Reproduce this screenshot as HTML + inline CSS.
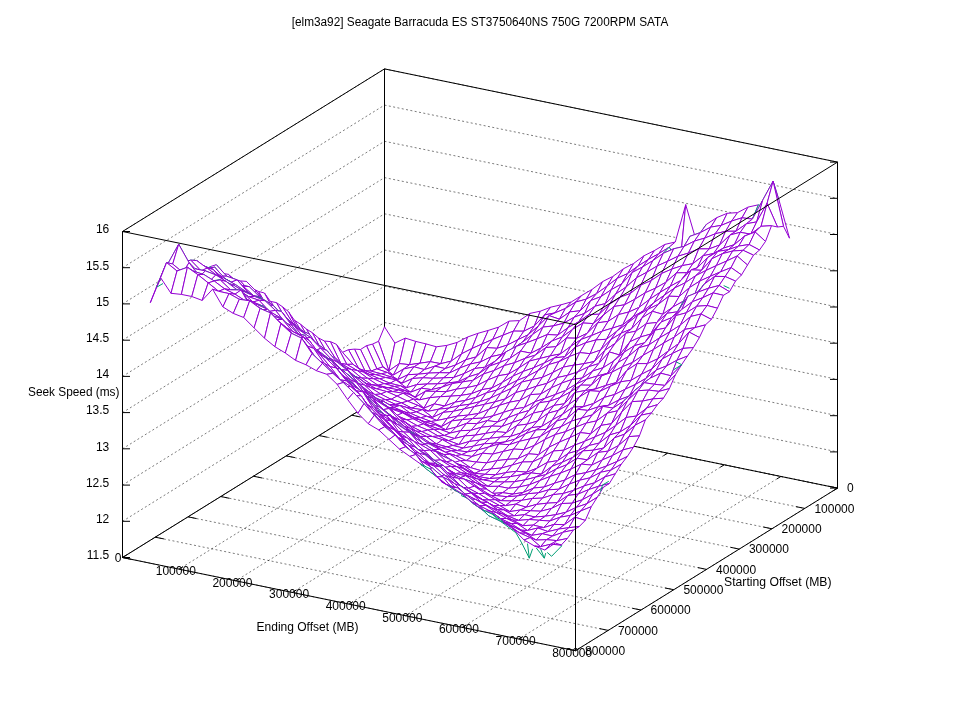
<!DOCTYPE html>
<html><head><meta charset="utf-8"><title>Seek plot</title>
<style>html,body{margin:0;padding:0;background:#fff;}body{width:960px;height:720px;overflow:hidden;font-family:"Liberation Sans",sans-serif;}svg{display:block;will-change:transform;}</style></head>
<body>
<svg width="960" height="720" viewBox="0 0 960 720">
<rect width="960" height="720" fill="#fff"/>
<path d="M384.5 394.9L122.5 557.5M384.5 394.9L837.5 488.1M441.1 406.5L179.1 569.1M351.8 415.2L804.8 508.4M497.8 418.2L235.8 580.8M319 435.5L772 528.8M554.4 429.8L292.4 592.4M286.2 455.9L739.2 549.1M611 441.5L349 604.1M253.5 476.2L706.5 569.4M667.6 453.1L405.6 615.8M220.8 496.5L673.8 589.7M724.2 464.8L462.2 627.4M188 516.8L641 610M780.9 476.4L518.9 639M155.2 537.2L608.2 630.4M837.5 488.1L575.5 650.7M122.5 557.5L575.5 650.7M122.5 557.5L384.5 394.9M384.5 394.9L837.5 488.1M122.5 521.3L384.5 358.7M384.5 358.7L837.5 451.9M122.5 485.1L384.5 322.5M384.5 322.5L837.5 415.7M122.5 448.8L384.5 286.2M384.5 286.2L837.5 379.4M122.5 412.6L384.5 250M384.5 250L837.5 343.2M122.5 376.4L384.5 213.8M384.5 213.8L837.5 307M122.5 340.2L384.5 177.6M384.5 177.6L837.5 270.8M122.5 303.9L384.5 141.3M384.5 141.3L837.5 234.5M122.5 267.7L384.5 105.1M384.5 105.1L837.5 198.3M122.5 231.5L384.5 68.9M384.5 68.9L837.5 162.1" fill="none" stroke="#000" stroke-opacity="0.8" stroke-width="0.65" stroke-dasharray="2 2.4"/>
<path d="M122.5 557.5L575.5 650.7M575.5 650.7L837.5 488.1M837.5 488.1L384.5 394.9M384.5 394.9L122.5 557.5M122.5 557.5L122.5 231.5M837.5 488.1L837.5 162.1M384.5 394.9L384.5 68.9M122.5 231.5L384.5 68.9M384.5 68.9L837.5 162.1M122.5 557.5L126.4 555.1M384.5 394.9L380.6 397.3M837.5 488.1L828.9 486.3M384.5 394.9L393.1 396.7M179.1 569.1L183 566.7M441.1 406.5L437.2 409M804.8 508.4L796.1 506.7M351.8 415.2L360.4 417M235.8 580.8L239.7 578.4M497.8 418.2L493.8 420.6M772 528.8L763.4 527M319 435.5L327.6 437.3M292.4 592.4L296.3 590M554.4 429.8L550.5 432.3M739.2 549.1L730.6 547.3M286.2 455.9L294.9 457.6M349 604.1L352.9 601.7M611 441.5L607.1 443.9M706.5 569.4L697.9 567.6M253.5 476.2L262.1 478M405.6 615.8L409.5 613.3M667.6 453.1L663.7 455.6M673.8 589.7L665.1 588M220.8 496.5L229.4 498.3M462.2 627.4L466.2 625M724.2 464.8L720.3 467.2M641 610L632.4 608.3M188 516.8L196.6 518.6M518.9 639L522.8 636.6M780.9 476.4L777 478.9M608.2 630.4L599.6 628.6M155.2 537.2L163.9 538.9M575.5 650.7L579.4 648.3M837.5 488.1L833.6 490.5M575.5 650.7L566.9 648.9M122.5 557.5L131.1 559.3M122.5 557.5L130 557.5M837.5 488.1L830 488.1M122.5 521.3L130 521.3M837.5 451.9L830 451.9M122.5 485.1L130 485.1M837.5 415.7L830 415.7M122.5 448.8L130 448.8M837.5 379.4L830 379.4M122.5 412.6L130 412.6M837.5 343.2L830 343.2M122.5 376.4L130 376.4M837.5 307L830 307M122.5 340.2L130 340.2M837.5 270.8L830 270.8M122.5 303.9L130 303.9M837.5 234.5L830 234.5M122.5 267.7L130 267.7M837.5 198.3L830 198.3M122.5 231.5L130 231.5M837.5 162.1L830 162.1" fill="none" stroke="#000" stroke-width="1"/>
<path d="M461.1 495.5L471.4 499.9M482.3 508.2L504.2 524L515.8 532.7L521.7 542.9L529.3 558.2L532.6 548.8M527.5 543.6L529.3 558.2M536.3 548L544.3 558.2L545.7 553.1M540.6 548.8L544.3 558.2M547.2 552.4L551.6 556.3L561.8 545.8L555.9 542.2" fill="none" stroke="#009e73" stroke-width="1" stroke-linejoin="round"/>
<g fill="#fff" stroke="#9400d3" stroke-width="1" stroke-linejoin="round">
<path d="M384.5 326.8L394.9 343.1L388.9 370.8L378.5 341.3Z"/>
<path d="M394.9 343.1L405.3 338.1L399.3 363.6L388.9 370.8Z"/>
<path d="M378.5 341.3L388.9 370.8L382.9 366.9L372.5 344.1Z"/>
<path d="M405.3 338.1L415.7 341.4L409.6 364.7L399.3 363.6Z"/>
<path d="M388.9 370.8L399.3 363.6L393.3 375.1L382.9 366.9Z"/>
<path d="M415.7 341.4L426 343.9L420 363.2L409.6 364.7Z"/>
<path d="M372.5 344.1L382.9 366.9L376.9 368.9L366.5 345.7Z"/>
<path d="M399.3 363.6L409.6 364.7L403.6 369L393.3 375.1Z"/>
<path d="M426 343.9L436.4 346.8L430.4 361.7L420 363.2Z"/>
<path d="M382.9 366.9L393.3 375.1L387.3 372.5L376.9 368.9Z"/>
<path d="M409.6 364.7L420 363.2L414 366.8L403.6 369Z"/>
<path d="M436.4 346.8L446.8 345.4L440.8 363.7L430.4 361.7Z"/>
<path d="M366.5 345.7L376.9 368.9L370.9 371.1L360.5 349.5Z"/>
<path d="M393.3 375.1L403.6 369L397.6 379.7L387.3 372.5Z"/>
<path d="M420 363.2L430.4 361.7L424.4 369.6L414 366.8Z"/>
<path d="M446.8 345.4L457.2 342.4L451.2 361.1L440.8 363.7Z"/>
<path d="M376.9 368.9L387.3 372.5L381.2 373.8L370.9 371.1Z"/>
<path d="M403.6 369L414 366.8L408 374.7L397.6 379.7Z"/>
<path d="M430.4 361.7L440.8 363.7L434.8 366.2L424.4 369.6Z"/>
<path d="M360.5 349.5L370.9 371.1L364.9 370.7L354.5 349.1Z"/>
<path d="M457.2 342.4L467.6 337L461.6 353.8L451.2 361.1Z"/>
<path d="M387.3 372.5L397.6 379.7L391.6 377.1L381.2 373.8Z"/>
<path d="M414 366.8L424.4 369.6L418.4 374.2L408 374.7Z"/>
<path d="M440.8 363.7L451.2 361.1L445.2 368.6L434.8 366.2Z"/>
<path d="M370.9 371.1L381.2 373.8L375.2 374.6L364.9 370.7Z"/>
<path d="M467.6 337L478 333.3L472 348.5L461.6 353.8Z"/>
<path d="M397.6 379.7L408 374.7L402 383.3L391.6 377.1Z"/>
<path d="M424.4 369.6L434.8 366.2L428.8 373.1L418.4 374.2Z"/>
<path d="M354.5 349.1L364.9 370.7L358.8 368.7L348.5 349.7Z"/>
<path d="M451.2 361.1L461.6 353.8L455.6 365L445.2 368.6Z"/>
<path d="M381.2 373.8L391.6 377.1L385.6 377.5L375.2 374.6Z"/>
<path d="M478 333.3L488.3 330.4L482.3 343.9L472 348.5Z"/>
<path d="M408 374.7L418.4 374.2L412.4 378.5L402 383.3Z"/>
<path d="M434.8 366.2L445.2 368.6L439.2 372.7L428.8 373.1Z"/>
<path d="M364.9 370.7L375.2 374.6L369.2 374.4L358.8 368.7Z"/>
<path d="M461.6 353.8L472 348.5L466 359.7L455.6 365Z"/>
<path d="M391.6 377.1L402 383.3L396 380L385.6 377.5Z"/>
<path d="M488.3 330.4L498.7 327.1L492.7 339.4L482.3 343.9Z"/>
<path d="M418.4 374.2L428.8 373.1L422.8 377.8L412.4 378.5Z"/>
<path d="M348.5 349.7L358.8 368.7L352.8 364.2L342.5 352.3Z"/>
<path d="M445.2 368.6L455.6 365L449.6 372.9L439.2 372.7Z"/>
<path d="M375.2 374.6L385.6 377.5L379.6 378.8L369.2 374.4Z"/>
<path d="M472 348.5L482.3 343.9L476.3 356.9L466 359.7Z"/>
<path d="M402 383.3L412.4 378.5L406.4 387.8L396 380Z"/>
<path d="M498.7 327.1L509.1 321.1L503.1 335.2L492.7 339.4Z"/>
<path d="M428.8 373.1L439.2 372.7L433.2 378.3L422.8 377.8Z"/>
<path d="M358.8 368.7L369.2 374.4L363.2 372L352.8 364.2Z"/>
<path d="M455.6 365L466 359.7L459.9 368L449.6 372.9Z"/>
<path d="M385.6 377.5L396 380L390 383.3L379.6 378.8Z"/>
<path d="M482.3 343.9L492.7 339.4L486.7 347.6L476.3 356.9Z"/>
<path d="M412.4 378.5L422.8 377.8L416.8 384.6L406.4 387.8Z"/>
<path d="M509.1 321.1L519.5 320.6L513.5 331.1L503.1 335.2Z"/>
<path d="M342.5 352.3L352.8 364.2L346.8 364.4L336.4 344.3Z"/>
<path d="M439.2 372.7L449.6 372.9L443.6 377.9L433.2 378.3Z"/>
<path d="M369.2 374.4L379.6 378.8L373.6 378.8L363.2 372Z"/>
<path d="M466 359.7L476.3 356.9L470.3 364L459.9 368Z"/>
<path d="M396 380L406.4 387.8L400.4 385.8L390 383.3Z"/>
<path d="M492.7 339.4L503.1 335.2L497.1 348.3L486.7 347.6Z"/>
<path d="M422.8 377.8L433.2 378.3L427.2 384L416.8 384.6Z"/>
<path d="M519.5 320.6L529.9 313.4L523.9 331.2L513.5 331.1Z"/>
<path d="M352.8 364.2L363.2 372L357.2 370.5L346.8 364.4Z"/>
<path d="M449.6 372.9L459.9 368L453.9 377.4L443.6 377.9Z"/>
<path d="M379.6 378.8L390 383.3L384 383.6L373.6 378.8Z"/>
<path d="M476.3 356.9L486.7 347.6L480.7 361.9L470.3 364Z"/>
<path d="M406.4 387.8L416.8 384.6L410.8 392.2L400.4 385.8Z"/>
<path d="M503.1 335.2L513.5 331.1L507.5 345L497.1 348.3Z"/>
<path d="M336.4 344.3L346.8 364.4L340.8 363.5L330.4 341.6Z"/>
<path d="M433.2 378.3L443.6 377.9L437.5 383.9L427.2 384Z"/>
<path d="M529.9 313.4L540.3 311.2L534.3 326L523.9 331.2Z"/>
<path d="M363.2 372L373.6 378.8L367.6 378.3L357.2 370.5Z"/>
<path d="M459.9 368L470.3 364L464.3 373.5L453.9 377.4Z"/>
<path d="M390 383.3L400.4 385.8L394.4 386.5L384 383.6Z"/>
<path d="M486.7 347.6L497.1 348.3L491.1 356.7L480.7 361.9Z"/>
<path d="M416.8 384.6L427.2 384L421.2 388.2L410.8 392.2Z"/>
<path d="M513.5 331.1L523.9 331.2L517.9 339.7L507.5 345Z"/>
<path d="M346.8 364.4L357.2 370.5L351.2 369.5L340.8 363.5Z"/>
<path d="M443.6 377.9L453.9 377.4L447.9 382.9L437.5 383.9Z"/>
<path d="M540.3 311.2L550.7 307.2L544.7 314.9L534.3 326Z"/>
<path d="M373.6 378.8L384 383.6L378 385.3L367.6 378.3Z"/>
<path d="M470.3 364L480.7 361.9L474.7 368.5L464.3 373.5Z"/>
<path d="M400.4 385.8L410.8 392.2L404.8 390.5L394.4 386.5Z"/>
<path d="M497.1 348.3L507.5 345L501.5 354.4L491.1 356.7Z"/>
<path d="M330.4 341.6L340.8 363.5L334.8 357.5L324.4 341Z"/>
<path d="M427.2 384L437.5 383.9L431.5 389.6L421.2 388.2Z"/>
<path d="M523.9 331.2L534.3 326L528.3 334.7L517.9 339.7Z"/>
<path d="M357.2 370.5L367.6 378.3L361.6 378L351.2 369.5Z"/>
<path d="M453.9 377.4L464.3 373.5L458.3 381.8L447.9 382.9Z"/>
<path d="M550.7 307.2L561 304.8L555 312.9L544.7 314.9Z"/>
<path d="M384 383.6L394.4 386.5L388.4 387.9L378 385.3Z"/>
<path d="M480.7 361.9L491.1 356.7L485.1 367.2L474.7 368.5Z"/>
<path d="M410.8 392.2L421.2 388.2L415.2 397.3L404.8 390.5Z"/>
<path d="M507.5 345L517.9 339.7L511.9 349.9L501.5 354.4Z"/>
<path d="M340.8 363.5L351.2 369.5L345.2 368L334.8 357.5Z"/>
<path d="M437.5 383.9L447.9 382.9L441.9 387.2L431.5 389.6Z"/>
<path d="M534.3 326L544.7 314.9L538.6 325.7L528.3 334.7Z"/>
<path d="M367.6 378.3L378 385.3L372 384.9L361.6 378Z"/>
<path d="M464.3 373.5L474.7 368.5L468.7 376.8L458.3 381.8Z"/>
<path d="M561 304.8L571.4 301.9L565.4 308.5L555 312.9Z"/>
<path d="M394.4 386.5L404.8 390.5L398.8 390L388.4 387.9Z"/>
<path d="M491.1 356.7L501.5 354.4L495.5 361L485.1 367.2Z"/>
<path d="M324.4 341L334.8 357.5L328.8 356.1L318.4 337.9Z"/>
<path d="M421.2 388.2L431.5 389.6L425.5 391.2L415.2 397.3Z"/>
<path d="M517.9 339.7L528.3 334.7L522.3 342.3L511.9 349.9Z"/>
<path d="M351.2 369.5L361.6 378L355.6 377L345.2 368Z"/>
<path d="M447.9 382.9L458.3 381.8L452.3 383.6L441.9 387.2Z"/>
<path d="M544.7 314.9L555 312.9L549 315.6L538.6 325.7Z"/>
<path d="M378 385.3L388.4 387.9L382.4 387.1L372 384.9Z"/>
<path d="M474.7 368.5L485.1 367.2L479.1 373.5L468.7 376.8Z"/>
<path d="M571.4 301.9L581.8 295.4L575.8 302L565.4 308.5Z"/>
<path d="M404.8 390.5L415.2 397.3L409.1 394.3L398.8 390Z"/>
<path d="M501.5 354.4L511.9 349.9L505.9 351.9L495.5 361Z"/>
<path d="M334.8 357.5L345.2 368L339.2 363.5L328.8 356.1Z"/>
<path d="M431.5 389.6L441.9 387.2L435.9 391.4L425.5 391.2Z"/>
<path d="M528.3 334.7L538.6 325.7L532.6 334.5L522.3 342.3Z"/>
<path d="M361.6 378L372 384.9L366 383.4L355.6 377Z"/>
<path d="M458.3 381.8L468.7 376.8L462.7 381.9L452.3 383.6Z"/>
<path d="M555 312.9L565.4 308.5L559.4 319.2L549 315.6Z"/>
<path d="M388.4 387.9L398.8 390L392.8 391.6L382.4 387.1Z"/>
<path d="M485.1 367.2L495.5 361L489.5 366.1L479.1 373.5Z"/>
<path d="M581.8 295.4L592.2 289.3L586.2 299.2L575.8 302Z"/>
<path d="M318.4 337.9L328.8 356.1L322.8 352.4L312.4 332.8Z"/>
<path d="M415.2 397.3L425.5 391.2L419.5 399.9L409.1 394.3Z"/>
<path d="M511.9 349.9L522.3 342.3L516.2 346.4L505.9 351.9Z" stroke="#009e73"/>
<path d="M345.2 368L355.6 377L349.6 373.4L339.2 363.5Z"/>
<path d="M441.9 387.2L452.3 383.6L446.3 391.7L435.9 391.4Z"/>
<path d="M538.6 325.7L549 315.6L543 327.1L532.6 334.5Z"/>
<path d="M372 384.9L382.4 387.1L376.4 388.8L366 383.4Z"/>
<path d="M468.7 376.8L479.1 373.5L473.1 380.3L462.7 381.9Z"/>
<path d="M565.4 308.5L575.8 302L569.8 311.9L559.4 319.2Z"/>
<path d="M398.8 390L409.1 394.3L403.1 393.3L392.8 391.6Z"/>
<path d="M495.5 361L505.9 351.9L499.9 362.4L489.5 366.1Z"/>
<path d="M592.2 289.3L602.6 281.6L596.6 293.6L586.2 299.2Z"/>
<path d="M328.8 356.1L339.2 363.5L333.2 359.6L322.8 352.4Z"/>
<path d="M425.5 391.2L435.9 391.4L429.9 397.7L419.5 399.9Z"/>
<path d="M522.3 342.3L532.6 334.5L526.6 342.8L516.2 346.4Z"/>
<path d="M355.6 377L366 383.4L360 379.1L349.6 373.4Z" stroke="#009e73"/>
<path d="M452.3 383.6L462.7 381.9L456.7 389.1L446.3 391.7Z"/>
<path d="M549 315.6L559.4 319.2L553.4 325.9L543 327.1Z"/>
<path d="M382.4 387.1L392.8 391.6L386.7 391.6L376.4 388.8Z"/>
<path d="M479.1 373.5L489.5 366.1L483.5 374L473.1 380.3Z"/>
<path d="M575.8 302L586.2 299.2L580.2 310.8L569.8 311.9Z"/>
<path d="M312.4 332.8L322.8 352.4L316.8 347.5L306.4 329Z"/>
<path d="M409.1 394.3L419.5 399.9L413.5 399.2L403.1 393.3Z"/>
<path d="M505.9 351.9L516.2 346.4L510.2 358.2L499.9 362.4Z"/>
<path d="M602.6 281.6L613 276.3L607 286.1L596.6 293.6Z"/>
<path d="M339.2 363.5L349.6 373.4L343.6 368.3L333.2 359.6Z"/>
<path d="M435.9 391.4L446.3 391.7L440.3 396.7L429.9 397.7Z"/>
<path d="M532.6 334.5L543 327.1L537 338.9L526.6 342.8Z"/>
<path d="M366 383.4L376.4 388.8L370.4 387.5L360 379.1Z"/>
<path d="M462.7 381.9L473.1 380.3L467.1 387.6L456.7 389.1Z"/>
<path d="M559.4 319.2L569.8 311.9L563.8 323.2L553.4 325.9Z"/>
<path d="M392.8 391.6L403.1 393.3L397.1 396.1L386.7 391.6Z"/>
<path d="M489.5 366.1L499.9 362.4L493.9 370.6L483.5 374Z"/>
<path d="M586.2 299.2L596.6 293.6L590.6 300.6L580.2 310.8Z"/>
<path d="M322.8 352.4L333.2 359.6L327.2 355.1L316.8 347.5Z" stroke="#009e73"/>
<path d="M419.5 399.9L429.9 397.7L423.9 408.2L413.5 399.2Z"/>
<path d="M516.2 346.4L526.6 342.8L520.6 351.1L510.2 358.2Z"/>
<path d="M613 276.3L623.4 268.8L617.3 278.3L607 286.1Z"/>
<path d="M349.6 373.4L360 379.1L354 376.2L343.6 368.3Z" stroke="#009e73"/>
<path d="M446.3 391.7L456.7 389.1L450.7 396.2L440.3 396.7Z"/>
<path d="M543 327.1L553.4 325.9L547.4 334.5L537 338.9Z"/>
<path d="M376.4 388.8L386.7 391.6L380.7 394L370.4 387.5Z"/>
<path d="M473.1 380.3L483.5 374L477.5 385.3L467.1 387.6Z"/>
<path d="M569.8 311.9L580.2 310.8L574.2 317.2L563.8 323.2Z"/>
<path d="M306.4 329L316.8 347.5L310.8 342.7L300.4 324.1Z"/>
<path d="M403.1 393.3L413.5 399.2L407.5 401.2L397.1 396.1Z"/>
<path d="M499.9 362.4L510.2 358.2L504.2 365.6L493.9 370.6Z"/>
<path d="M596.6 293.6L607 286.1L601 296.6L590.6 300.6Z"/>
<path d="M333.2 359.6L343.6 368.3L337.6 361.7L327.2 355.1Z" stroke="#009e73"/>
<path d="M429.9 397.7L440.3 396.7L434.3 403.9L423.9 408.2Z"/>
<path d="M526.6 342.8L537 338.9L531 353.2L520.6 351.1Z"/>
<path d="M623.4 268.8L633.7 263.4L627.7 273.5L617.3 278.3Z"/>
<path d="M360 379.1L370.4 387.5L364.3 385L354 376.2Z"/>
<path d="M456.7 389.1L467.1 387.6L461.1 395.4L450.7 396.2Z"/>
<path d="M553.4 325.9L563.8 323.2L557.8 335.1L547.4 334.5Z"/>
<path d="M386.7 391.6L397.1 396.1L391.1 399.3L380.7 394Z"/>
<path d="M483.5 374L493.9 370.6L487.8 380L477.5 385.3Z"/>
<path d="M580.2 310.8L590.6 300.6L584.6 313.4L574.2 317.2Z"/>
<path d="M316.8 347.5L327.2 355.1L321.2 351.3L310.8 342.7Z"/>
<path d="M413.5 399.2L423.9 408.2L417.9 405.4L407.5 401.2Z"/>
<path d="M510.2 358.2L520.6 351.1L514.6 362.7L504.2 365.6Z"/>
<path d="M607 286.1L617.3 278.3L611.3 289.7L601 296.6Z"/>
<path d="M343.6 368.3L354 376.2L348 370L337.6 361.7Z" stroke="#009e73"/>
<path d="M440.3 396.7L450.7 396.2L444.7 406L434.3 403.9Z"/>
<path d="M537 338.9L547.4 334.5L541.4 347.8L531 353.2Z"/>
<path d="M633.7 263.4L644.1 255.7L638.1 266L627.7 273.5Z"/>
<path d="M370.4 387.5L380.7 394L374.7 394.5L364.3 385Z"/>
<path d="M467.1 387.6L477.5 385.3L471.5 393.7L461.1 395.4Z"/>
<path d="M563.8 323.2L574.2 317.2L568.2 327.5L557.8 335.1Z"/>
<path d="M300.4 324.1L310.8 342.7L304.8 336.6L294.4 320.2Z"/>
<path d="M397.1 396.1L407.5 401.2L401.5 402.9L391.1 399.3Z"/>
<path d="M493.9 370.6L504.2 365.6L498.2 375.8L487.8 380Z"/>
<path d="M590.6 300.6L601 296.6L595 306.2L584.6 313.4Z"/>
<path d="M327.2 355.1L337.6 361.7L331.6 360.1L321.2 351.3Z"/>
<path d="M423.9 408.2L434.3 403.9L428.3 411.3L417.9 405.4Z"/>
<path d="M520.6 351.1L531 353.2L525 358.4L514.6 362.7Z"/>
<path d="M617.3 278.3L627.7 273.5L621.7 283.9L611.3 289.7Z"/>
<path d="M354 376.2L364.3 385L358.3 383.6L348 370Z"/>
<path d="M450.7 396.2L461.1 395.4L455.1 402.2L444.7 406Z"/>
<path d="M547.4 334.5L557.8 335.1L551.8 341.1L541.4 347.8Z"/>
<path d="M644.1 255.7L654.5 250.5L648.5 259.4L638.1 266Z"/>
<path d="M380.7 394L391.1 399.3L385.1 399.6L374.7 394.5Z"/>
<path d="M477.5 385.3L487.8 380L481.8 389.7L471.5 393.7Z"/>
<path d="M574.2 317.2L584.6 313.4L578.6 321.8L568.2 327.5Z"/>
<path d="M310.8 342.7L321.2 351.3L315.2 344.9L304.8 336.6Z" stroke="#009e73"/>
<path d="M407.5 401.2L417.9 405.4L411.9 408.2L401.5 402.9Z"/>
<path d="M504.2 365.6L514.6 362.7L508.6 374L498.2 375.8Z"/>
<path d="M601 296.6L611.3 289.7L605.3 303.6L595 306.2Z"/>
<path d="M337.6 361.7L348 370L342 369.2L331.6 360.1Z"/>
<path d="M434.3 403.9L444.7 406L438.7 409.2L428.3 411.3Z"/>
<path d="M531 353.2L541.4 347.8L535.4 355.1L525 358.4Z"/>
<path d="M627.7 273.5L638.1 266L632.1 272.6L621.7 283.9Z"/>
<path d="M364.3 385L374.7 394.5L368.7 391.6L358.3 383.6Z"/>
<path d="M461.1 395.4L471.5 393.7L465.4 400.4L455.1 402.2Z"/>
<path d="M557.8 335.1L568.2 327.5L562.2 337L551.8 341.1Z"/>
<path d="M654.5 250.5L664.9 244.4L658.9 253.6L648.5 259.4Z"/>
<path d="M294.4 320.2L304.8 336.6L298.8 331.1L288.4 311.6Z"/>
<path d="M391.1 399.3L401.5 402.9L395.5 404.4L385.1 399.6Z"/>
<path d="M487.8 380L498.2 375.8L492.2 387.9L481.8 389.7Z"/>
<path d="M584.6 313.4L595 306.2L588.9 314.6L578.6 321.8Z"/>
<path d="M321.2 351.3L331.6 360.1L325.6 357.1L315.2 344.9Z"/>
<path d="M417.9 405.4L428.3 411.3L422.3 409.7L411.9 408.2Z"/>
<path d="M514.6 362.7L525 358.4L519 367.9L508.6 374Z"/>
<path d="M611.3 289.7L621.7 283.9L615.7 294.1L605.3 303.6Z"/>
<path d="M348 370L358.3 383.6L352.3 378.1L342 369.2Z"/>
<path d="M444.7 406L455.1 402.2L449.1 408.1L438.7 409.2Z"/>
<path d="M541.4 347.8L551.8 341.1L545.8 347.6L535.4 355.1Z"/>
<path d="M638.1 266L648.5 259.4L642.5 267L632.1 272.6Z"/>
<path d="M374.7 394.5L385.1 399.6L379.1 400.8L368.7 391.6Z"/>
<path d="M471.5 393.7L481.8 389.7L475.8 397.4L465.4 400.4Z"/>
<path d="M568.2 327.5L578.6 321.8L572.6 329.4L562.2 337Z"/>
<path d="M664.9 244.4L675.3 242L669.3 247.1L658.9 253.6Z"/>
<path d="M304.8 336.6L315.2 344.9L309.2 334L298.8 331.1Z" stroke="#009e73"/>
<path d="M401.5 402.9L411.9 408.2L405.9 407.3L395.5 404.4Z"/>
<path d="M498.2 375.8L508.6 374L502.6 382.3L492.2 387.9Z"/>
<path d="M595 306.2L605.3 303.6L599.3 314.2L588.9 314.6Z"/>
<path d="M331.6 360.1L342 369.2L335.9 364.3L325.6 357.1Z"/>
<path d="M428.3 411.3L438.7 409.2L432.7 417.4L422.3 409.7Z"/>
<path d="M525 358.4L535.4 355.1L529.4 361.1L519 367.9Z"/>
<path d="M621.7 283.9L632.1 272.6L626.1 287L615.7 294.1Z"/>
<path d="M358.3 383.6L368.7 391.6L362.7 388.4L352.3 378.1Z"/>
<path d="M455.1 402.2L465.4 400.4L459.4 405.7L449.1 408.1Z"/>
<path d="M551.8 341.1L562.2 337L556.2 346.6L545.8 347.6Z"/>
<path d="M648.5 259.4L658.9 253.6L652.9 260.6L642.5 267Z"/>
<path d="M288.4 311.6L298.8 331.1L292.8 323.2L282.4 306.7Z"/>
<path d="M385.1 399.6L395.5 404.4L389.5 405L379.1 400.8Z"/>
<path d="M481.8 389.7L492.2 387.9L486.2 393L475.8 397.4Z"/>
<path d="M578.6 321.8L588.9 314.6L582.9 323L572.6 329.4Z"/>
<path d="M675.3 242L685.7 204.7L679.7 267.7L669.3 247.1Z"/>
<path d="M315.2 344.9L325.6 357.1L319.6 348.4L309.2 334Z" stroke="#009e73"/>
<path d="M411.9 408.2L422.3 409.7L416.3 411.9L405.9 407.3Z"/>
<path d="M508.6 374L519 367.9L513 376.1L502.6 382.3Z"/>
<path d="M605.3 303.6L615.7 294.1L609.7 304.2L599.3 314.2Z"/>
<path d="M342 369.2L352.3 378.1L346.3 375L335.9 364.3Z"/>
<path d="M438.7 409.2L449.1 408.1L443.1 412.4L432.7 417.4Z"/>
<path d="M535.4 355.1L545.8 347.6L539.8 358.5L529.4 361.1Z"/>
<path d="M632.1 272.6L642.5 267L636.5 277.8L626.1 287Z"/>
<path d="M368.7 391.6L379.1 400.8L373.1 396.7L362.7 388.4Z"/>
<path d="M465.4 400.4L475.8 397.4L469.8 404.2L459.4 405.7Z"/>
<path d="M562.2 337L572.6 329.4L566.5 338L556.2 346.6Z"/>
<path d="M658.9 253.6L669.3 247.1L663.3 253.3L652.9 260.6Z"/>
<path d="M298.8 331.1L309.2 334L303.2 331.4L292.8 323.2Z" stroke="#009e73"/>
<path d="M395.5 404.4L405.9 407.3L399.9 405.5L389.5 405Z"/>
<path d="M492.2 387.9L502.6 382.3L496.6 390.2L486.2 393Z"/>
<path d="M588.9 314.6L599.3 314.2L593.3 323.6L582.9 323Z"/>
<path d="M685.7 204.7L696 240L690 236.3L679.7 267.7Z"/>
<path d="M325.6 357.1L335.9 364.3L329.9 356.4L319.6 348.4Z" stroke="#009e73"/>
<path d="M422.3 409.7L432.7 417.4L426.7 416.3L416.3 411.9Z"/>
<path d="M519 367.9L529.4 361.1L523.4 371.4L513 376.1Z"/>
<path d="M615.7 294.1L626.1 287L620.1 297.3L609.7 304.2Z"/>
<path d="M352.3 378.1L362.7 388.4L356.7 382.6L346.3 375Z"/>
<path d="M449.1 408.1L459.4 405.7L453.4 411.3L443.1 412.4Z"/>
<path d="M545.8 347.6L556.2 346.6L550.2 355.9L539.8 358.5Z"/>
<path d="M642.5 267L652.9 260.6L646.9 272.2L636.5 277.8Z"/>
<path d="M282.4 306.7L292.8 323.2L286.8 320.8L276.4 302.6Z"/>
<path d="M379.1 400.8L389.5 405L383.5 401.4L373.1 396.7Z" stroke="#009e73"/>
<path d="M475.8 397.4L486.2 393L480.2 401.6L469.8 404.2Z"/>
<path d="M572.6 329.4L582.9 323L576.9 338.2L566.5 338Z"/>
<path d="M669.3 247.1L679.7 267.7L673.7 248.8L663.3 253.3Z" stroke="#009e73"/>
<path d="M309.2 334L319.6 348.4L313.5 345.6L303.2 331.4Z"/>
<path d="M405.9 407.3L416.3 411.9L410.3 413.3L399.9 405.5Z"/>
<path d="M502.6 382.3L513 376.1L507 385.5L496.6 390.2Z"/>
<path d="M599.3 314.2L609.7 304.2L603.7 314.9L593.3 323.6Z"/>
<path d="M696 240L706.4 224.4L700.4 232.6L690 236.3Z" stroke="#009e73"/>
<path d="M335.9 364.3L346.3 375L340.3 369L329.9 356.4Z" stroke="#009e73"/>
<path d="M432.7 417.4L443.1 412.4L437 420.5L426.7 416.3Z"/>
<path d="M529.4 361.1L539.8 358.5L533.8 367.7L523.4 371.4Z"/>
<path d="M626.1 287L636.5 277.8L630.5 293.4L620.1 297.3Z"/>
<path d="M362.7 388.4L373.1 396.7L367.1 392.2L356.7 382.6Z"/>
<path d="M459.4 405.7L469.8 404.2L463.8 409L453.4 411.3Z"/>
<path d="M556.2 346.6L566.5 338L560.5 353.9L550.2 355.9Z"/>
<path d="M652.9 260.6L663.3 253.3L657.3 265.9L646.9 272.2Z"/>
<path d="M292.8 323.2L303.2 331.4L297.2 329.3L286.8 320.8Z"/>
<path d="M389.5 405L399.9 405.5L393.9 407.4L383.5 401.4Z"/>
<path d="M486.2 393L496.6 390.2L490.6 398L480.2 401.6Z"/>
<path d="M582.9 323L593.3 323.6L587.3 333.2L576.9 338.2Z"/>
<path d="M679.7 267.7L690 236.3L684 246.4L673.7 248.8Z" stroke="#009e73"/>
<path d="M319.6 348.4L329.9 356.4L323.9 350.7L313.5 345.6Z" stroke="#009e73"/>
<path d="M416.3 411.9L426.7 416.3L420.7 417.7L410.3 413.3Z"/>
<path d="M513 376.1L523.4 371.4L517.4 380.3L507 385.5Z"/>
<path d="M609.7 304.2L620.1 297.3L614.1 306.5L603.7 314.9Z"/>
<path d="M706.4 224.4L716.8 217.6L710.8 227.1L700.4 232.6Z"/>
<path d="M346.3 375L356.7 382.6L350.7 379.2L340.3 369Z"/>
<path d="M443.1 412.4L453.4 411.3L447.4 418.4L437 420.5Z"/>
<path d="M539.8 358.5L550.2 355.9L544.1 363.1L533.8 367.7Z"/>
<path d="M636.5 277.8L646.9 272.2L640.9 285.1L630.5 293.4Z"/>
<path d="M276.4 302.6L286.8 320.8L280.8 315.9L270.4 301.4Z"/>
<path d="M373.1 396.7L383.5 401.4L377.5 401.8L367.1 392.2Z"/>
<path d="M469.8 404.2L480.2 401.6L474.2 406.7L463.8 409Z"/>
<path d="M566.5 338L576.9 338.2L570.9 346.2L560.5 353.9Z"/>
<path d="M663.3 253.3L673.7 248.8L667.6 261.3L657.3 265.9Z"/>
<path d="M303.2 331.4L313.5 345.6L307.5 341.1L297.2 329.3Z"/>
<path d="M399.9 405.5L410.3 413.3L404.3 411.9L393.9 407.4Z"/>
<path d="M496.6 390.2L507 385.5L501 393.1L490.6 398Z"/>
<path d="M593.3 323.6L603.7 314.9L597.7 322.8L587.3 333.2Z"/>
<path d="M690 236.3L700.4 232.6L694.4 241.1L684 246.4Z"/>
<path d="M329.9 356.4L340.3 369L334.3 361.7L323.9 350.7Z"/>
<path d="M426.7 416.3L437 420.5L431 421.5L420.7 417.7Z"/>
<path d="M523.4 371.4L533.8 367.7L527.8 376.1L517.4 380.3Z"/>
<path d="M620.1 297.3L630.5 293.4L624.5 304.8L614.1 306.5Z"/>
<path d="M716.8 217.6L727.2 213.3L721.2 225.4L710.8 227.1Z"/>
<path d="M356.7 382.6L367.1 392.2L361.1 386.6L350.7 379.2Z"/>
<path d="M453.4 411.3L463.8 409L457.8 416L447.4 418.4Z"/>
<path d="M550.2 355.9L560.5 353.9L554.5 357.9L544.1 363.1Z"/>
<path d="M646.9 272.2L657.3 265.9L651.3 280.5L640.9 285.1Z"/>
<path d="M286.8 320.8L297.2 329.3L291.2 327L280.8 315.9Z"/>
<path d="M383.5 401.4L393.9 407.4L387.9 407.6L377.5 401.8Z"/>
<path d="M480.2 401.6L490.6 398L484.6 404.3L474.2 406.7Z"/>
<path d="M576.9 338.2L587.3 333.2L581.3 339.4L570.9 346.2Z"/>
<path d="M673.7 248.8L684 246.4L678 256.2L667.6 261.3Z"/>
<path d="M313.5 345.6L323.9 350.7L317.9 347.4L307.5 341.1Z" stroke="#009e73"/>
<path d="M410.3 413.3L420.7 417.7L414.6 417.8L404.3 411.9Z"/>
<path d="M507 385.5L517.4 380.3L511.4 388.4L501 393.1Z"/>
<path d="M603.7 314.9L614.1 306.5L608.1 321.4L597.7 322.8Z"/>
<path d="M700.4 232.6L710.8 227.1L704.8 238.1L694.4 241.1Z"/>
<path d="M340.3 369L350.7 379.2L344.7 375.2L334.3 361.7Z"/>
<path d="M437 420.5L447.4 418.4L441.4 426.7L431 421.5Z"/>
<path d="M533.8 367.7L544.1 363.1L538.1 370.6L527.8 376.1Z"/>
<path d="M630.5 293.4L640.9 285.1L634.9 299.2L624.5 304.8Z"/>
<path d="M727.2 213.3L737.6 212.6L731.6 221.1L721.2 225.4Z"/>
<path d="M270.4 301.4L280.8 315.9L274.8 312.2L264.4 293Z"/>
<path d="M367.1 392.2L377.5 401.8L371.5 397.2L361.1 386.6Z"/>
<path d="M463.8 409L474.2 406.7L468.2 415.1L457.8 416Z"/>
<path d="M560.5 353.9L570.9 346.2L564.9 356.7L554.5 357.9Z"/>
<path d="M657.3 265.9L667.6 261.3L661.6 273.5L651.3 280.5Z"/>
<path d="M297.2 329.3L307.5 341.1L301.5 332.7L291.2 327Z" stroke="#009e73"/>
<path d="M393.9 407.4L404.3 411.9L398.3 410.2L387.9 407.6Z"/>
<path d="M490.6 398L501 393.1L495 401.9L484.6 404.3Z"/>
<path d="M587.3 333.2L597.7 322.8L591.7 335.5L581.3 339.4Z"/>
<path d="M684 246.4L694.4 241.1L688.4 253.1L678 256.2Z"/>
<path d="M323.9 350.7L334.3 361.7L328.3 354.5L317.9 347.4Z" stroke="#009e73"/>
<path d="M420.7 417.7L431 421.5L425 422L414.6 417.8Z"/>
<path d="M517.4 380.3L527.8 376.1L521.8 382.1L511.4 388.4Z"/>
<path d="M614.1 306.5L624.5 304.8L618.5 314.6L608.1 321.4Z"/>
<path d="M710.8 227.1L721.2 225.4L715.2 233.8L704.8 238.1Z"/>
<path d="M350.7 379.2L361.1 386.6L355.1 384.6L344.7 375.2Z"/>
<path d="M447.4 418.4L457.8 416L451.8 420.9L441.4 426.7Z"/>
<path d="M544.1 363.1L554.5 357.9L548.5 364.6L538.1 370.6Z"/>
<path d="M640.9 285.1L651.3 280.5L645.2 292.8L634.9 299.2Z"/>
<path d="M737.6 212.6L748 207.1L742 217.8L731.6 221.1Z"/>
<path d="M280.8 315.9L291.2 327L285.1 321.8L274.8 312.2Z"/>
<path d="M377.5 401.8L387.9 407.6L381.9 405.1L371.5 397.2Z"/>
<path d="M474.2 406.7L484.6 404.3L478.6 413.5L468.2 415.1Z"/>
<path d="M570.9 346.2L581.3 339.4L575.3 347.2L564.9 356.7Z"/>
<path d="M667.6 261.3L678 256.2L672 269L661.6 273.5Z"/>
<path d="M307.5 341.1L317.9 347.4L311.9 339.4L301.5 332.7Z" stroke="#009e73"/>
<path d="M404.3 411.9L414.6 417.8L408.6 415.5L398.3 410.2Z"/>
<path d="M501 393.1L511.4 388.4L505.4 398.9L495 401.9Z"/>
<path d="M597.7 322.8L608.1 321.4L602.1 331.2L591.7 335.5Z"/>
<path d="M694.4 241.1L704.8 238.1L698.8 248.9L688.4 253.1Z"/>
<path d="M334.3 361.7L344.7 375.2L338.7 365.2L328.3 354.5Z" stroke="#009e73"/>
<path d="M431 421.5L441.4 426.7L435.4 424.9L425 422Z"/>
<path d="M527.8 376.1L538.1 370.6L532.1 379.7L521.8 382.1Z"/>
<path d="M624.5 304.8L634.9 299.2L628.9 312L618.5 314.6Z"/>
<path d="M721.2 225.4L731.6 221.1L725.6 231.3L715.2 233.8Z"/>
<path d="M264.4 293L274.8 312.2L268.8 309L258.4 291.4Z"/>
<path d="M361.1 386.6L371.5 397.2L365.5 395.9L355.1 384.6Z"/>
<path d="M457.8 416L468.2 415.1L462.2 419.7L451.8 420.9Z"/>
<path d="M554.5 357.9L564.9 356.7L558.9 361.7L548.5 364.6Z"/>
<path d="M651.3 280.5L661.6 273.5L655.6 288.1L645.2 292.8Z"/>
<path d="M748 207.1L758.4 204.8L752.4 219.1L742 217.8Z"/>
<path d="M291.2 327L301.5 332.7L295.5 329.2L285.1 321.8Z" stroke="#009e73"/>
<path d="M387.9 407.6L398.3 410.2L392.2 409.3L381.9 405.1Z"/>
<path d="M484.6 404.3L495 401.9L489 409.2L478.6 413.5Z"/>
<path d="M581.3 339.4L591.7 335.5L585.7 342.8L575.3 347.2Z"/>
<path d="M678 256.2L688.4 253.1L682.4 265.6L672 269Z"/>
<path d="M317.9 347.4L328.3 354.5L322.3 347.9L311.9 339.4Z" stroke="#009e73"/>
<path d="M414.6 417.8L425 422L419 419.6L408.6 415.5Z"/>
<path d="M511.4 388.4L521.8 382.1L515.7 392.6L505.4 398.9Z"/>
<path d="M608.1 321.4L618.5 314.6L612.5 328.1L602.1 331.2Z"/>
<path d="M704.8 238.1L715.2 233.8L709.2 248.9L698.8 248.9Z"/>
<path d="M344.7 375.2L355.1 384.6L349.1 374.2L338.7 365.2Z" stroke="#009e73"/>
<path d="M441.4 426.7L451.8 420.9L445.8 429.7L435.4 424.9Z"/>
<path d="M538.1 370.6L548.5 364.6L542.5 377.3L532.1 379.7Z"/>
<path d="M634.9 299.2L645.2 292.8L639.2 307.3L628.9 312Z"/>
<path d="M731.6 221.1L742 217.8L736 231.2L725.6 231.3Z"/>
<path d="M274.8 312.2L285.1 321.8L279.1 312.3L268.8 309Z" stroke="#009e73"/>
<path d="M371.5 397.2L381.9 405.1L375.9 398.1L365.5 395.9Z" stroke="#009e73"/>
<path d="M468.2 415.1L478.6 413.5L472.6 418.6L462.2 419.7Z"/>
<path d="M564.9 356.7L575.3 347.2L569.3 356.6L558.9 361.7Z"/>
<path d="M661.6 273.5L672 269L666 282.2L655.6 288.1Z"/>
<path d="M758.4 204.8L768.7 209.3L762.7 200.2L752.4 219.1Z" stroke="#009e73"/>
<path d="M301.5 332.7L311.9 339.4L305.9 336.3L295.5 329.2Z"/>
<path d="M398.3 410.2L408.6 415.5L402.6 412.9L392.2 409.3Z"/>
<path d="M495 401.9L505.4 398.9L499.4 405.4L489 409.2Z"/>
<path d="M591.7 335.5L602.1 331.2L596.1 339.9L585.7 342.8Z"/>
<path d="M688.4 253.1L698.8 248.9L692.8 263.7L682.4 265.6Z"/>
<path d="M328.3 354.5L338.7 365.2L332.7 357.4L322.3 347.9Z" stroke="#009e73"/>
<path d="M425 422L435.4 424.9L429.4 425.7L419 419.6Z"/>
<path d="M521.8 382.1L532.1 379.7L526.1 389.8L515.7 392.6Z"/>
<path d="M618.5 314.6L628.9 312L622.8 324.8L612.5 328.1Z"/>
<path d="M715.2 233.8L725.6 231.3L719.6 245L709.2 248.9Z"/>
<path d="M258.4 291.4L268.8 309L262.7 299L252.4 288.5Z"/>
<path d="M355.1 384.6L365.5 395.9L359.5 387.4L349.1 374.2Z" stroke="#009e73"/>
<path d="M451.8 420.9L462.2 419.7L456.2 427.1L445.8 429.7Z"/>
<path d="M548.5 364.6L558.9 361.7L552.9 372.5L542.5 377.3Z"/>
<path d="M645.2 292.8L655.6 288.1L649.6 299.3L639.2 307.3Z"/>
<path d="M742 217.8L752.4 219.1L746.3 223.8L736 231.2Z"/>
<path d="M285.1 321.8L295.5 329.2L289.5 320.7L279.1 312.3Z" stroke="#009e73"/>
<path d="M381.9 405.1L392.2 409.3L386.2 405.9L375.9 398.1Z" stroke="#009e73"/>
<path d="M478.6 413.5L489 409.2L483 418.1L472.6 418.6Z"/>
<path d="M575.3 347.2L585.7 342.8L579.7 352.6L569.3 356.6Z"/>
<path d="M672 269L682.4 265.6L676.4 272.9L666 282.2Z"/>
<path d="M768.7 209.3L779.1 200.5L773.1 181.2L762.7 200.2Z" stroke="#009e73"/>
<path d="M311.9 339.4L322.3 347.9L316.3 343.5L305.9 336.3Z"/>
<path d="M408.6 415.5L419 419.6L413 418.8L402.6 412.9Z"/>
<path d="M505.4 398.9L515.7 392.6L509.7 402.2L499.4 405.4Z"/>
<path d="M602.1 331.2L612.5 328.1L606.5 339.3L596.1 339.9Z"/>
<path d="M698.8 248.9L709.2 248.9L703.2 255.7L692.8 263.7Z"/>
<path d="M338.7 365.2L349.1 374.2L343.1 370.1L332.7 357.4Z"/>
<path d="M435.4 424.9L445.8 429.7L439.8 429.3L429.4 425.7Z"/>
<path d="M532.1 379.7L542.5 377.3L536.5 386.2L526.1 389.8Z"/>
<path d="M628.9 312L639.2 307.3L633.2 316.7L622.8 324.8Z"/>
<path d="M725.6 231.3L736 231.2L730 235L719.6 245Z"/>
<path d="M268.8 309L279.1 312.3L273.1 305.4L262.7 299Z" stroke="#009e73"/>
<path d="M365.5 395.9L375.9 398.1L369.9 394.6L359.5 387.4Z" stroke="#009e73"/>
<path d="M462.2 419.7L472.6 418.6L466.6 423.4L456.2 427.1Z"/>
<path d="M558.9 361.7L569.3 356.6L563.3 367.1L552.9 372.5Z"/>
<path d="M655.6 288.1L666 282.2L660 292.4L649.6 299.3Z"/>
<path d="M752.4 219.1L762.7 200.2L756.7 221.9L746.3 223.8Z"/>
<path d="M295.5 329.2L305.9 336.3L299.9 330.4L289.5 320.7Z" stroke="#009e73"/>
<path d="M392.2 409.3L402.6 412.9L396.6 415.6L386.2 405.9Z"/>
<path d="M489 409.2L499.4 405.4L493.3 415.8L483 418.1Z"/>
<path d="M585.7 342.8L596.1 339.9L590.1 353.7L579.7 352.6Z"/>
<path d="M682.4 265.6L692.8 263.7L686.8 272.7L676.4 272.9Z"/>
<path d="M779.1 200.5L789.5 238.2L783.5 226.3L773.1 181.2Z"/>
<path d="M322.3 347.9L332.7 357.4L326.7 350.4L316.3 343.5Z" stroke="#009e73"/>
<path d="M419 419.6L429.4 425.7L423.4 424L413 418.8Z"/>
<path d="M515.7 392.6L526.1 389.8L520.1 400.3L509.7 402.2Z"/>
<path d="M612.5 328.1L622.8 324.8L616.8 331.2L606.5 339.3Z"/>
<path d="M709.2 248.9L719.6 245L713.6 253.5L703.2 255.7Z"/>
<path d="M252.4 288.5L262.7 299L256.7 291.7L246.4 281.4Z" stroke="#009e73"/>
<path d="M349.1 374.2L359.5 387.4L353.5 380.8L343.1 370.1Z"/>
<path d="M445.8 429.7L456.2 427.1L450.2 433.1L439.8 429.3Z"/>
<path d="M542.5 377.3L552.9 372.5L546.9 383.4L536.5 386.2Z"/>
<path d="M639.2 307.3L649.6 299.3L643.6 310.7L633.2 316.7Z"/>
<path d="M736 231.2L746.3 223.8L740.3 232.3L730 235Z"/>
<path d="M279.1 312.3L289.5 320.7L283.5 316.3L273.1 305.4Z" stroke="#009e73"/>
<path d="M375.9 398.1L386.2 405.9L380.2 401.5L369.9 394.6Z"/>
<path d="M472.6 418.6L483 418.1L477 423.6L466.6 423.4Z"/>
<path d="M569.3 356.6L579.7 352.6L573.7 365.2L563.3 367.1Z"/>
<path d="M666 282.2L676.4 272.9L670.4 286.2L660 292.4Z"/>
<path d="M762.7 200.2L773.1 181.2L767.1 203.3L756.7 221.9Z"/>
<path d="M305.9 336.3L316.3 343.5L310.3 337.4L299.9 330.4Z" stroke="#009e73"/>
<path d="M402.6 412.9L413 418.8L407 419.9L396.6 415.6Z"/>
<path d="M499.4 405.4L509.7 402.2L503.7 412.3L493.3 415.8Z"/>
<path d="M596.1 339.9L606.5 339.3L600.5 350.1L590.1 353.7Z"/>
<path d="M692.8 263.7L703.2 255.7L697.2 267.9L686.8 272.7Z"/>
<path d="M332.7 357.4L343.1 370.1L337.1 362.1L326.7 350.4Z" stroke="#009e73"/>
<path d="M429.4 425.7L439.8 429.3L433.8 429.4L423.4 424Z"/>
<path d="M526.1 389.8L536.5 386.2L530.5 394.6L520.1 400.3Z"/>
<path d="M622.8 324.8L633.2 316.7L627.2 323.5L616.8 331.2Z"/>
<path d="M719.6 245L730 235L723.9 248L713.6 253.5Z"/>
<path d="M262.7 299L273.1 305.4L267.1 305L256.7 291.7Z"/>
<path d="M359.5 387.4L369.9 394.6L363.8 388.5L353.5 380.8Z" stroke="#009e73"/>
<path d="M456.2 427.1L466.6 423.4L460.6 430.7L450.2 433.1Z"/>
<path d="M552.9 372.5L563.3 367.1L557.3 377.6L546.9 383.4Z"/>
<path d="M649.6 299.3L660 292.4L654 302.6L643.6 310.7Z"/>
<path d="M746.3 223.8L756.7 221.9L750.7 234.2L740.3 232.3Z"/>
<path d="M289.5 320.7L299.9 330.4L293.9 325.5L283.5 316.3Z"/>
<path d="M386.2 405.9L396.6 415.6L390.6 409L380.2 401.5Z" stroke="#009e73"/>
<path d="M483 418.1L493.3 415.8L487.3 420.6L477 423.6Z"/>
<path d="M579.7 352.6L590.1 353.7L584.1 363.7L573.7 365.2Z"/>
<path d="M676.4 272.9L686.8 272.7L680.8 280.5L670.4 286.2Z"/>
<path d="M773.1 181.2L783.5 226.3L777.5 227L767.1 203.3Z"/>
<path d="M316.3 343.5L326.7 350.4L320.7 348.3L310.3 337.4Z"/>
<path d="M413 418.8L423.4 424L417.4 425.8L407 419.9Z"/>
<path d="M509.7 402.2L520.1 400.3L514.1 409.1L503.7 412.3Z"/>
<path d="M606.5 339.3L616.8 331.2L610.8 339.7L600.5 350.1Z"/>
<path d="M703.2 255.7L713.6 253.5L707.6 257.6L697.2 267.9Z"/>
<path d="M246.4 281.4L256.7 291.7L250.7 292.3L240.3 280.9Z"/>
<path d="M343.1 370.1L353.5 380.8L347.5 370.4L337.1 362.1Z" stroke="#009e73"/>
<path d="M439.8 429.3L450.2 433.1L444.2 435.5L433.8 429.4Z"/>
<path d="M536.5 386.2L546.9 383.4L540.9 394L530.5 394.6Z"/>
<path d="M633.2 316.7L643.6 310.7L637.6 315.3L627.2 323.5Z"/>
<path d="M730 235L740.3 232.3L734.3 244.7L723.9 248Z"/>
<path d="M273.1 305.4L283.5 316.3L277.5 313.3L267.1 305Z"/>
<path d="M369.9 394.6L380.2 401.5L374.2 402L363.8 388.5Z"/>
<path d="M466.6 423.4L477 423.6L470.9 430.3L460.6 430.7Z"/>
<path d="M563.3 367.1L573.7 365.2L567.7 375.3L557.3 377.6Z"/>
<path d="M660 292.4L670.4 286.2L664.4 295.2L654 302.6Z"/>
<path d="M756.7 221.9L767.1 203.3L761.1 226.3L750.7 234.2Z"/>
<path d="M299.9 330.4L310.3 337.4L304.3 338.6L293.9 325.5Z"/>
<path d="M396.6 415.6L407 419.9L401 418.9L390.6 409Z"/>
<path d="M493.3 415.8L503.7 412.3L497.7 422L487.3 420.6Z"/>
<path d="M590.1 353.7L600.5 350.1L594.4 361.5L584.1 363.7Z"/>
<path d="M686.8 272.7L697.2 267.9L691.2 269.8L680.8 280.5Z"/>
<path d="M326.7 350.4L337.1 362.1L331.1 359L320.7 348.3Z"/>
<path d="M423.4 424L433.8 429.4L427.8 430.1L417.4 425.8Z"/>
<path d="M520.1 400.3L530.5 394.6L524.5 407.3L514.1 409.1Z"/>
<path d="M616.8 331.2L627.2 323.5L621.2 333.2L610.8 339.7Z"/>
<path d="M713.6 253.5L723.9 248L717.9 251.4L707.6 257.6Z"/>
<path d="M256.7 291.7L267.1 305L261.1 297.3L250.7 292.3Z"/>
<path d="M353.5 380.8L363.8 388.5L357.8 382.7L347.5 370.4Z" stroke="#009e73"/>
<path d="M450.2 433.1L460.6 430.7L454.6 438.5L444.2 435.5Z"/>
<path d="M546.9 383.4L557.3 377.6L551.3 387.8L540.9 394Z"/>
<path d="M643.6 310.7L654 302.6L648 309.3L637.6 315.3Z"/>
<path d="M740.3 232.3L750.7 234.2L744.7 236L734.3 244.7Z"/>
<path d="M283.5 316.3L293.9 325.5L287.9 319.9L277.5 313.3Z"/>
<path d="M380.2 401.5L390.6 409L384.6 405.2L374.2 402Z"/>
<path d="M477 423.6L487.3 420.6L481.3 427.3L470.9 430.3Z"/>
<path d="M573.7 365.2L584.1 363.7L578.1 371.8L567.7 375.3Z"/>
<path d="M670.4 286.2L680.8 280.5L674.8 287.9L664.4 295.2Z"/>
<path d="M767.1 203.3L777.5 227L771.5 225.7L761.1 226.3Z"/>
<path d="M310.3 337.4L320.7 348.3L314.7 351L304.3 338.6Z"/>
<path d="M407 419.9L417.4 425.8L411.4 426.4L401 418.9Z"/>
<path d="M503.7 412.3L514.1 409.1L508.1 417.7L497.7 422Z"/>
<path d="M600.5 350.1L610.8 339.7L604.8 350.4L594.4 361.5Z"/>
<path d="M697.2 267.9L707.6 257.6L701.6 270.3L691.2 269.8Z"/>
<path d="M240.3 280.9L250.7 292.3L244.7 289.5L234.3 279.3Z"/>
<path d="M337.1 362.1L347.5 370.4L341.4 369.6L331.1 359Z"/>
<path d="M433.8 429.4L444.2 435.5L438.2 436L427.8 430.1Z"/>
<path d="M530.5 394.6L540.9 394L534.9 401.8L524.5 407.3Z"/>
<path d="M627.2 323.5L637.6 315.3L631.6 328.8L621.2 333.2Z"/>
<path d="M723.9 248L734.3 244.7L728.3 249.7L717.9 251.4Z"/>
<path d="M267.1 305L277.5 313.3L271.5 308.8L261.1 297.3Z" stroke="#009e73"/>
<path d="M363.8 388.5L374.2 402L368.2 394.5L357.8 382.7Z"/>
<path d="M460.6 430.7L470.9 430.3L464.9 435.9L454.6 438.5Z"/>
<path d="M557.3 377.6L567.7 375.3L561.7 383.1L551.3 387.8Z"/>
<path d="M654 302.6L664.4 295.2L658.4 304.3L648 309.3Z"/>
<path d="M750.7 234.2L761.1 226.3L755.1 232L744.7 236Z"/>
<path d="M293.9 325.5L304.3 338.6L298.3 336.1L287.9 319.9Z"/>
<path d="M390.6 409L401 418.9L395 413.2L384.6 405.2Z"/>
<path d="M487.3 420.6L497.7 422L491.7 426.1L481.3 427.3Z"/>
<path d="M584.1 363.7L594.4 361.5L588.4 366.8L578.1 371.8Z"/>
<path d="M680.8 280.5L691.2 269.8L685.2 282.8L674.8 287.9Z"/>
<path d="M320.7 348.3L331.1 359L325.1 358.6L314.7 351Z"/>
<path d="M417.4 425.8L427.8 430.1L421.8 431.6L411.4 426.4Z"/>
<path d="M514.1 409.1L524.5 407.3L518.5 413.6L508.1 417.7Z"/>
<path d="M610.8 339.7L621.2 333.2L615.2 343.3L604.8 350.4Z"/>
<path d="M707.6 257.6L717.9 251.4L711.9 258.8L701.6 270.3Z"/>
<path d="M250.7 292.3L261.1 297.3L255.1 295.7L244.7 289.5Z"/>
<path d="M347.5 370.4L357.8 382.7L351.8 378L341.4 369.6Z"/>
<path d="M444.2 435.5L454.6 438.5L448.6 440.7L438.2 436Z"/>
<path d="M540.9 394L551.3 387.8L545.3 398.2L534.9 401.8Z"/>
<path d="M637.6 315.3L648 309.3L642 317.9L631.6 328.8Z"/>
<path d="M734.3 244.7L744.7 236L738.7 246.1L728.3 249.7Z"/>
<path d="M277.5 313.3L287.9 319.9L281.9 317.6L271.5 308.8Z"/>
<path d="M374.2 402L384.6 405.2L378.6 402L368.2 394.5Z" stroke="#009e73"/>
<path d="M470.9 430.3L481.3 427.3L475.3 435.2L464.9 435.9Z"/>
<path d="M567.7 375.3L578.1 371.8L572 379.5L561.7 383.1Z"/>
<path d="M664.4 295.2L674.8 287.9L668.8 296.2L658.4 304.3Z"/>
<path d="M761.1 226.3L771.5 225.7L765.5 241.4L755.1 232Z"/>
<path d="M304.3 338.6L314.7 351L308.7 344.7L298.3 336.1Z"/>
<path d="M401 418.9L411.4 426.4L405.4 422.6L395 413.2Z"/>
<path d="M497.7 422L508.1 417.7L502.1 426.4L491.7 426.1Z"/>
<path d="M594.4 361.5L604.8 350.4L598.8 363.6L588.4 366.8Z"/>
<path d="M691.2 269.8L701.6 270.3L695.5 275.8L685.2 282.8Z"/>
<path d="M234.3 279.3L244.7 289.5L238.7 284.9L228.3 274.3Z"/>
<path d="M331.1 359L341.4 369.6L335.4 365.4L325.1 358.6Z"/>
<path d="M427.8 430.1L438.2 436L432.2 436.5L421.8 431.6Z"/>
<path d="M524.5 407.3L534.9 401.8L528.9 410.5L518.5 413.6Z"/>
<path d="M621.2 333.2L631.6 328.8L625.6 333.3L615.2 343.3Z"/>
<path d="M717.9 251.4L728.3 249.7L722.3 253.7L711.9 258.8Z"/>
<path d="M261.1 297.3L271.5 308.8L265.5 302.3L255.1 295.7Z"/>
<path d="M357.8 382.7L368.2 394.5L362.2 390.5L351.8 378Z"/>
<path d="M454.6 438.5L464.9 435.9L458.9 444.5L448.6 440.7Z"/>
<path d="M551.3 387.8L561.7 383.1L555.7 394.4L545.3 398.2Z"/>
<path d="M648 309.3L658.4 304.3L652.4 311.3L642 317.9Z"/>
<path d="M744.7 236L755.1 232L749.1 244.5L738.7 246.1Z"/>
<path d="M287.9 319.9L298.3 336.1L292.3 333.8L281.9 317.6Z"/>
<path d="M384.6 405.2L395 413.2L389 408.5L378.6 402Z"/>
<path d="M481.3 427.3L491.7 426.1L485.7 433.4L475.3 435.2Z"/>
<path d="M578.1 371.8L588.4 366.8L582.4 378L572 379.5Z"/>
<path d="M674.8 287.9L685.2 282.8L679.2 296.5L668.8 296.2Z"/>
<path d="M314.7 351L325.1 358.6L319 351.4L308.7 344.7Z" stroke="#009e73"/>
<path d="M411.4 426.4L421.8 431.6L415.8 431.1L405.4 422.6Z"/>
<path d="M508.1 417.7L518.5 413.6L512.5 422.4L502.1 426.4Z"/>
<path d="M604.8 350.4L615.2 343.3L609.2 351.9L598.8 363.6Z"/>
<path d="M701.6 270.3L711.9 258.8L705.9 270.5L695.5 275.8Z"/>
<path d="M244.7 289.5L255.1 295.7L249.1 286.6L238.7 284.9Z" stroke="#009e73"/>
<path d="M341.4 369.6L351.8 378L345.8 372.9L335.4 365.4Z" stroke="#009e73"/>
<path d="M438.2 436L448.6 440.7L442.5 439.7L432.2 436.5Z"/>
<path d="M534.9 401.8L545.3 398.2L539.3 402.8L528.9 410.5Z"/>
<path d="M631.6 328.8L642 317.9L636 331.1L625.6 333.3Z"/>
<path d="M728.3 249.7L738.7 246.1L732.7 251L722.3 253.7Z"/>
<path d="M271.5 308.8L281.9 317.6L275.9 316.7L265.5 302.3Z"/>
<path d="M368.2 394.5L378.6 402L372.6 398.3L362.2 390.5Z"/>
<path d="M464.9 435.9L475.3 435.2L469.3 441.5L458.9 444.5Z"/>
<path d="M561.7 383.1L572 379.5L566 390.3L555.7 394.4Z"/>
<path d="M658.4 304.3L668.8 296.2L662.8 314.3L652.4 311.3Z"/>
<path d="M755.1 232L765.5 241.4L759.5 250L749.1 244.5Z"/>
<path d="M298.3 336.1L308.7 344.7L302.7 339.6L292.3 333.8Z"/>
<path d="M395 413.2L405.4 422.6L399.4 419.9L389 408.5Z"/>
<path d="M491.7 426.1L502.1 426.4L496.1 431.6L485.7 433.4Z"/>
<path d="M588.4 366.8L598.8 363.6L592.8 371L582.4 378Z"/>
<path d="M685.2 282.8L695.5 275.8L689.5 287.6L679.2 296.5Z"/>
<path d="M228.3 274.3L238.7 284.9L232.7 281.6L222.3 273.4Z"/>
<path d="M325.1 358.6L335.4 365.4L329.4 359.2L319 351.4Z" stroke="#009e73"/>
<path d="M421.8 431.6L432.2 436.5L426.2 436.4L415.8 431.1Z"/>
<path d="M518.5 413.6L528.9 410.5L522.9 419L512.5 422.4Z"/>
<path d="M615.2 343.3L625.6 333.3L619.6 355L609.2 351.9Z"/>
<path d="M711.9 258.8L722.3 253.7L716.3 265.6L705.9 270.5Z"/>
<path d="M255.1 295.7L265.5 302.3L259.5 296.7L249.1 286.6Z" stroke="#009e73"/>
<path d="M351.8 378L362.2 390.5L356.2 382.4L345.8 372.9Z" stroke="#009e73"/>
<path d="M448.6 440.7L458.9 444.5L452.9 445.5L442.5 439.7Z"/>
<path d="M545.3 398.2L555.7 394.4L549.7 401.2L539.3 402.8Z"/>
<path d="M642 317.9L652.4 311.3L646.4 323.6L636 331.1Z"/>
<path d="M738.7 246.1L749.1 244.5L743.1 250.3L732.7 251Z"/>
<path d="M281.9 317.6L292.3 333.8L286.3 326L275.9 316.7Z"/>
<path d="M378.6 402L389 408.5L383 409.7L372.6 398.3Z"/>
<path d="M475.3 435.2L485.7 433.4L479.7 440.1L469.3 441.5Z"/>
<path d="M572 379.5L582.4 378L576.4 383.9L566 390.3Z"/>
<path d="M668.8 296.2L679.2 296.5L673.1 306.9L662.8 314.3Z"/>
<path d="M308.7 344.7L319 351.4L313 347.6L302.7 339.6Z" stroke="#009e73"/>
<path d="M405.4 422.6L415.8 431.1L409.8 428.3L399.4 419.9Z"/>
<path d="M502.1 426.4L512.5 422.4L506.5 432.6L496.1 431.6Z"/>
<path d="M598.8 363.6L609.2 351.9L603.2 367.7L592.8 371Z"/>
<path d="M695.5 275.8L705.9 270.5L699.9 281L689.5 287.6Z"/>
<path d="M238.7 284.9L249.1 286.6L243.1 286.2L232.7 281.6Z"/>
<path d="M335.4 365.4L345.8 372.9L339.8 368.7L329.4 359.2Z" stroke="#009e73"/>
<path d="M432.2 436.5L442.5 439.7L436.5 444L426.2 436.4Z"/>
<path d="M528.9 410.5L539.3 402.8L533.3 413.1L522.9 419Z"/>
<path d="M625.6 333.3L636 331.1L630 341.7L619.6 355Z"/>
<path d="M722.3 253.7L732.7 251L726.7 261L716.3 265.6Z"/>
<path d="M265.5 302.3L275.9 316.7L269.9 310.7L259.5 296.7Z"/>
<path d="M362.2 390.5L372.6 398.3L366.6 396.2L356.2 382.4Z"/>
<path d="M458.9 444.5L469.3 441.5L463.3 448.1L452.9 445.5Z"/>
<path d="M555.7 394.4L566 390.3L560 397.6L549.7 401.2Z"/>
<path d="M652.4 311.3L662.8 314.3L656.8 322.5L646.4 323.6Z"/>
<path d="M749.1 244.5L759.5 250L753.5 255.2L743.1 250.3Z"/>
<path d="M292.3 333.8L302.7 339.6L296.7 337.4L286.3 326Z"/>
<path d="M389 408.5L399.4 419.9L393.4 417.1L383 409.7Z"/>
<path d="M485.7 433.4L496.1 431.6L490.1 438.3L479.7 440.1Z"/>
<path d="M582.4 378L592.8 371L586.8 379.2L576.4 383.9Z"/>
<path d="M679.2 296.5L689.5 287.6L683.5 301.1L673.1 306.9Z"/>
<path d="M222.3 273.4L232.7 281.6L226.7 276.2L216.3 264.7Z" stroke="#009e73"/>
<path d="M319 351.4L329.4 359.2L323.4 356.5L313 347.6Z"/>
<path d="M415.8 431.1L426.2 436.4L420.1 436.4L409.8 428.3Z"/>
<path d="M512.5 422.4L522.9 419L516.9 425.5L506.5 432.6Z"/>
<path d="M609.2 351.9L619.6 355L613.6 361.1L603.2 367.7Z"/>
<path d="M705.9 270.5L716.3 265.6L710.3 276.3L699.9 281Z"/>
<path d="M249.1 286.6L259.5 296.7L253.5 295.7L243.1 286.2Z"/>
<path d="M345.8 372.9L356.2 382.4L350.2 379.7L339.8 368.7Z"/>
<path d="M442.5 439.7L452.9 445.5L446.9 446.9L436.5 444Z"/>
<path d="M539.3 402.8L549.7 401.2L543.6 410.9L533.3 413.1Z"/>
<path d="M636 331.1L646.4 323.6L640.4 337L630 341.7Z"/>
<path d="M732.7 251L743.1 250.3L737.1 256L726.7 261Z"/>
<path d="M275.9 316.7L286.3 326L280.3 319.1L269.9 310.7Z" stroke="#009e73"/>
<path d="M372.6 398.3L383 409.7L377 403.5L366.6 396.2Z"/>
<path d="M469.3 441.5L479.7 440.1L473.7 446.1L463.3 448.1Z"/>
<path d="M566 390.3L576.4 383.9L570.4 391.9L560 397.6Z"/>
<path d="M662.8 314.3L673.1 306.9L667.1 313.3L656.8 322.5Z"/>
<path d="M302.7 339.6L313 347.6L307 345.7L296.7 337.4Z"/>
<path d="M399.4 419.9L409.8 428.3L403.8 426.2L393.4 417.1Z"/>
<path d="M496.1 431.6L506.5 432.6L500.5 437.1L490.1 438.3Z"/>
<path d="M592.8 371L603.2 367.7L597.2 376L586.8 379.2Z"/>
<path d="M689.5 287.6L699.9 281L693.9 296.5L683.5 301.1Z"/>
<path d="M232.7 281.6L243.1 286.2L237.1 279.9L226.7 276.2Z" stroke="#009e73"/>
<path d="M329.4 359.2L339.8 368.7L333.8 369.1L323.4 356.5Z"/>
<path d="M426.2 436.4L436.5 444L430.5 443.2L420.1 436.4Z"/>
<path d="M522.9 419L533.3 413.1L527.3 424.1L516.9 425.5Z"/>
<path d="M619.6 355L630 341.7L624 352.3L613.6 361.1Z"/>
<path d="M716.3 265.6L726.7 261L720.7 271.8L710.3 276.3Z"/>
<path d="M259.5 296.7L269.9 310.7L263.9 303.9L253.5 295.7Z"/>
<path d="M356.2 382.4L366.6 396.2L360.6 391.4L350.2 379.7Z"/>
<path d="M452.9 445.5L463.3 448.1L457.3 450.6L446.9 446.9Z"/>
<path d="M549.7 401.2L560 397.6L554 405.4L543.6 410.9Z"/>
<path d="M646.4 323.6L656.8 322.5L650.7 334.1L640.4 337Z"/>
<path d="M743.1 250.3L753.5 255.2L747.5 265L737.1 256Z"/>
<path d="M286.3 326L296.7 337.4L290.6 333.7L280.3 319.1Z"/>
<path d="M383 409.7L393.4 417.1L387.4 413.1L377 403.5Z" stroke="#009e73"/>
<path d="M479.7 440.1L490.1 438.3L484.1 443.8L473.7 446.1Z"/>
<path d="M576.4 383.9L586.8 379.2L580.8 385.1L570.4 391.9Z"/>
<path d="M673.1 306.9L683.5 301.1L677.5 311.8L667.1 313.3Z"/>
<path d="M216.3 264.7L226.7 276.2L220.7 276L210.3 266.6Z"/>
<path d="M313 347.6L323.4 356.5L317.4 352.1L307 345.7Z"/>
<path d="M409.8 428.3L420.1 436.4L414.1 433.3L403.8 426.2Z"/>
<path d="M506.5 432.6L516.9 425.5L510.9 436.3L500.5 437.1Z"/>
<path d="M603.2 367.7L613.6 361.1L607.6 373.3L597.2 376Z"/>
<path d="M699.9 281L710.3 276.3L704.3 284.1L693.9 296.5Z"/>
<path d="M243.1 286.2L253.5 295.7L247.5 292L237.1 279.9Z"/>
<path d="M339.8 368.7L350.2 379.7L344.2 376.7L333.8 369.1Z"/>
<path d="M436.5 444L446.9 446.9L440.9 447.5L430.5 443.2Z"/>
<path d="M533.3 413.1L543.6 410.9L537.6 421L527.3 424.1Z"/>
<path d="M630 341.7L640.4 337L634.4 345.7L624 352.3Z"/>
<path d="M726.7 261L737.1 256L731.1 267.6L720.7 271.8Z"/>
<path d="M269.9 310.7L280.3 319.1L274.3 318L263.9 303.9Z"/>
<path d="M366.6 396.2L377 403.5L371 401.3L360.6 391.4Z"/>
<path d="M463.3 448.1L473.7 446.1L467.7 451.9L457.3 450.6Z"/>
<path d="M560 397.6L570.4 391.9L564.4 403.8L554 405.4Z"/>
<path d="M656.8 322.5L667.1 313.3L661.1 322.1L650.7 334.1Z"/>
<path d="M296.7 337.4L307 345.7L301 341.8L290.6 333.7Z"/>
<path d="M393.4 417.1L403.8 426.2L397.8 420.9L387.4 413.1Z"/>
<path d="M490.1 438.3L500.5 437.1L494.5 443.2L484.1 443.8Z"/>
<path d="M586.8 379.2L597.2 376L591.2 385.2L580.8 385.1Z"/>
<path d="M683.5 301.1L693.9 296.5L687.9 296.3L677.5 311.8Z" stroke="#009e73"/>
<path d="M226.7 276.2L237.1 279.9L231.1 282.2L220.7 276Z"/>
<path d="M323.4 356.5L333.8 369.1L327.8 363.2L317.4 352.1Z"/>
<path d="M420.1 436.4L430.5 443.2L424.5 442.1L414.1 433.3Z"/>
<path d="M516.9 425.5L527.3 424.1L521.2 432.9L510.9 436.3Z"/>
<path d="M613.6 361.1L624 352.3L618 362.5L607.6 373.3Z"/>
<path d="M710.3 276.3L720.7 271.8L714.7 276.4L704.3 284.1Z"/>
<path d="M253.5 295.7L263.9 303.9L257.9 302.8L247.5 292Z"/>
<path d="M350.2 379.7L360.6 391.4L354.6 385.4L344.2 376.7Z"/>
<path d="M446.9 446.9L457.3 450.6L451.3 450.8L440.9 447.5Z"/>
<path d="M543.6 410.9L554 405.4L548 413.2L537.6 421Z"/>
<path d="M640.4 337L650.7 334.1L644.7 342.8L634.4 345.7Z"/>
<path d="M737.1 256L747.5 265L741.5 274.9L731.1 267.6Z"/>
<path d="M280.3 319.1L290.6 333.7L284.6 326.9L274.3 318Z"/>
<path d="M377 403.5L387.4 413.1L381.4 412.3L371 401.3Z"/>
<path d="M473.7 446.1L484.1 443.8L478.1 449.9L467.7 451.9Z"/>
<path d="M570.4 391.9L580.8 385.1L574.8 392.5L564.4 403.8Z"/>
<path d="M667.1 313.3L677.5 311.8L671.5 317.7L661.1 322.1Z"/>
<path d="M210.3 266.6L220.7 276L214.7 267.2L204.3 270Z" stroke="#009e73"/>
<path d="M307 345.7L317.4 352.1L311.4 347.7L301 341.8Z" stroke="#009e73"/>
<path d="M403.8 426.2L414.1 433.3L408.1 430.2L397.8 420.9Z"/>
<path d="M500.5 437.1L510.9 436.3L504.9 442L494.5 443.2Z"/>
<path d="M597.2 376L607.6 373.3L601.6 375.9L591.2 385.2Z"/>
<path d="M693.9 296.5L704.3 284.1L698.3 292L687.9 296.3Z" stroke="#009e73"/>
<path d="M237.1 279.9L247.5 292L241.5 291.3L231.1 282.2Z"/>
<path d="M333.8 369.1L344.2 376.7L338.2 371.5L327.8 363.2Z" stroke="#009e73"/>
<path d="M430.5 443.2L440.9 447.5L434.9 445.7L424.5 442.1Z"/>
<path d="M527.3 424.1L537.6 421L531.6 427.7L521.2 432.9Z"/>
<path d="M624 352.3L634.4 345.7L628.4 356.5L618 362.5Z"/>
<path d="M720.7 271.8L731.1 267.6L725.1 276.5L714.7 276.4Z"/>
<path d="M263.9 303.9L274.3 318L268.2 313L257.9 302.8Z"/>
<path d="M360.6 391.4L371 401.3L365 398.1L354.6 385.4Z"/>
<path d="M457.3 450.6L467.7 451.9L461.7 454.7L451.3 450.8Z"/>
<path d="M554 405.4L564.4 403.8L558.4 410.4L548 413.2Z"/>
<path d="M650.7 334.1L661.1 322.1L655.1 330.2L644.7 342.8Z"/>
<path d="M290.6 333.7L301 341.8L295 333.9L284.6 326.9Z" stroke="#009e73"/>
<path d="M387.4 413.1L397.8 420.9L391.7 417.4L381.4 412.3Z"/>
<path d="M484.1 443.8L494.5 443.2L488.5 447.1L478.1 449.9Z"/>
<path d="M580.8 385.1L591.2 385.2L585.2 390.5L574.8 392.5Z"/>
<path d="M677.5 311.8L687.9 296.3L681.9 309.3L671.5 317.7Z"/>
<path d="M220.7 276L231.1 282.2L225.1 278.9L214.7 267.2Z" stroke="#009e73"/>
<path d="M317.4 352.1L327.8 363.2L321.8 358.7L311.4 347.7Z"/>
<path d="M414.1 433.3L424.5 442.1L418.5 436.5L408.1 430.2Z" stroke="#009e73"/>
<path d="M510.9 436.3L521.2 432.9L515.2 439.1L504.9 442Z"/>
<path d="M607.6 373.3L618 362.5L612 372.2L601.6 375.9Z"/>
<path d="M704.3 284.1L714.7 276.4L708.7 288.2L698.3 292Z"/>
<path d="M247.5 292L257.9 302.8L251.9 294.8L241.5 291.3Z" stroke="#009e73"/>
<path d="M344.2 376.7L354.6 385.4L348.6 380.5L338.2 371.5Z"/>
<path d="M440.9 447.5L451.3 450.8L445.3 452.4L434.9 445.7Z"/>
<path d="M537.6 421L548 413.2L542 426.3L531.6 427.7Z"/>
<path d="M634.4 345.7L644.7 342.8L638.7 347.8L628.4 356.5Z"/>
<path d="M731.1 267.6L741.5 274.9L735.5 281.1L725.1 276.5Z"/>
<path d="M274.3 318L284.6 326.9L278.6 324.2L268.2 313Z"/>
<path d="M371 401.3L381.4 412.3L375.4 408.3L365 398.1Z"/>
<path d="M467.7 451.9L478.1 449.9L472.1 456.5L461.7 454.7Z"/>
<path d="M564.4 403.8L574.8 392.5L568.8 404.5L558.4 410.4Z"/>
<path d="M661.1 322.1L671.5 317.7L665.5 328L655.1 330.2Z"/>
<path d="M204.3 270L214.7 267.2L208.7 268L198.3 272.9Z" stroke="#009e73"/>
<path d="M301 341.8L311.4 347.7L305.4 343.5L295 333.9Z" stroke="#009e73"/>
<path d="M397.8 420.9L408.1 430.2L402.1 428.5L391.7 417.4Z"/>
<path d="M494.5 443.2L504.9 442L498.8 444L488.5 447.1Z"/>
<path d="M591.2 385.2L601.6 375.9L595.6 389L585.2 390.5Z"/>
<path d="M687.9 296.3L698.3 292L692.3 301.8L681.9 309.3Z"/>
<path d="M231.1 282.2L241.5 291.3L235.5 284.6L225.1 278.9Z" stroke="#009e73"/>
<path d="M327.8 363.2L338.2 371.5L332.2 370.8L321.8 358.7Z"/>
<path d="M424.5 442.1L434.9 445.7L428.9 443.8L418.5 436.5Z" stroke="#009e73"/>
<path d="M521.2 432.9L531.6 427.7L525.6 433.7L515.2 439.1Z"/>
<path d="M618 362.5L628.4 356.5L622.3 366.8L612 372.2Z"/>
<path d="M714.7 276.4L725.1 276.5L719.1 285.5L708.7 288.2Z"/>
<path d="M257.9 302.8L268.2 313L262.2 305.1L251.9 294.8Z" stroke="#009e73"/>
<path d="M354.6 385.4L365 398.1L359 389.7L348.6 380.5Z" stroke="#009e73"/>
<path d="M451.3 450.8L461.7 454.7L455.7 455.6L445.3 452.4Z"/>
<path d="M548 413.2L558.4 410.4L552.4 419.9L542 426.3Z"/>
<path d="M644.7 342.8L655.1 330.2L649.1 344.8L638.7 347.8Z"/>
<path d="M284.6 326.9L295 333.9L289 334.7L278.6 324.2Z"/>
<path d="M381.4 412.3L391.7 417.4L385.7 411.5L375.4 408.3Z" stroke="#009e73"/>
<path d="M478.1 449.9L488.5 447.1L482.5 453.2L472.1 456.5Z"/>
<path d="M574.8 392.5L585.2 390.5L579.2 397.1L568.8 404.5Z"/>
<path d="M671.5 317.7L681.9 309.3L675.9 315.6L665.5 328Z"/>
<path d="M214.7 267.2L225.1 278.9L219.1 274.9L208.7 268Z"/>
<path d="M311.4 347.7L321.8 358.7L315.8 356.1L305.4 343.5Z"/>
<path d="M408.1 430.2L418.5 436.5L412.5 433.8L402.1 428.5Z"/>
<path d="M504.9 442L515.2 439.1L509.2 444.7L498.8 444Z"/>
<path d="M601.6 375.9L612 372.2L606 385.4L595.6 389Z"/>
<path d="M698.3 292L708.7 288.2L702.7 297.7L692.3 301.8Z"/>
<path d="M241.5 291.3L251.9 294.8L245.9 291.7L235.5 284.6Z" stroke="#009e73"/>
<path d="M338.2 371.5L348.6 380.5L342.6 378.2L332.2 370.8Z"/>
<path d="M434.9 445.7L445.3 452.4L439.3 449.4L428.9 443.8Z"/>
<path d="M531.6 427.7L542 426.3L536 430L525.6 433.7Z"/>
<path d="M628.4 356.5L638.7 347.8L632.7 362.4L622.3 366.8Z"/>
<path d="M725.1 276.5L735.5 281.1L729.5 291.7L719.1 285.5Z"/>
<path d="M268.2 313L278.6 324.2L272.6 314.7L262.2 305.1Z" stroke="#009e73"/>
<path d="M365 398.1L375.4 408.3L369.3 397.9L359 389.7Z" stroke="#009e73"/>
<path d="M461.7 454.7L472.1 456.5L466.1 460.6L455.7 455.6Z"/>
<path d="M558.4 410.4L568.8 404.5L562.8 414.2L552.4 419.9Z"/>
<path d="M655.1 330.2L665.5 328L659.5 337.9L649.1 344.8Z"/>
<path d="M198.3 272.9L208.7 268L202.7 265.6L192.3 282.4Z" stroke="#009e73"/>
<path d="M295 333.9L305.4 343.5L299.4 337.5L289 334.7Z"/>
<path d="M391.7 417.4L402.1 428.5L396.1 420.7L385.7 411.5Z" stroke="#009e73"/>
<path d="M488.5 447.1L498.8 444L492.8 454.1L482.5 453.2Z"/>
<path d="M585.2 390.5L595.6 389L589.6 390.7L579.2 397.1Z"/>
<path d="M681.9 309.3L692.3 301.8L686.3 312.8L675.9 315.6Z"/>
<path d="M225.1 278.9L235.5 284.6L229.5 286.1L219.1 274.9Z"/>
<path d="M321.8 358.7L332.2 370.8L326.2 364.7L315.8 356.1Z"/>
<path d="M418.5 436.5L428.9 443.8L422.9 443.6L412.5 433.8Z"/>
<path d="M515.2 439.1L525.6 433.7L519.6 441.3L509.2 444.7Z"/>
<path d="M612 372.2L622.3 366.8L616.3 382.6L606 385.4Z"/>
<path d="M708.7 288.2L719.1 285.5L713.1 292.9L702.7 297.7Z"/>
<path d="M251.9 294.8L262.2 305.1L256.2 300.2L245.9 291.7Z"/>
<path d="M348.6 380.5L359 389.7L353 388.3L342.6 378.2Z"/>
<path d="M445.3 452.4L455.7 455.6L449.7 454.3L439.3 449.4Z"/>
<path d="M542 426.3L552.4 419.9L546.4 429.4L536 430Z"/>
<path d="M638.7 347.8L649.1 344.8L643.1 355.3L632.7 362.4Z"/>
<path d="M278.6 324.2L289 334.7L283 327.6L272.6 314.7Z" stroke="#009e73"/>
<path d="M375.4 408.3L385.7 411.5L379.7 407.3L369.3 397.9Z" stroke="#009e73"/>
<path d="M472.1 456.5L482.5 453.2L476.5 462.1L466.1 460.6Z"/>
<path d="M568.8 404.5L579.2 397.1L573.2 407L562.8 414.2Z"/>
<path d="M665.5 328L675.9 315.6L669.9 331.8L659.5 337.9Z"/>
<path d="M208.7 268L219.1 274.9L213.1 269.4L202.7 265.6Z" stroke="#009e73"/>
<path d="M305.4 343.5L315.8 356.1L309.8 350.2L299.4 337.5Z"/>
<path d="M402.1 428.5L412.5 433.8L406.5 431.2L396.1 420.7Z" stroke="#009e73"/>
<path d="M498.8 444L509.2 444.7L503.2 451.5L492.8 454.1Z"/>
<path d="M595.6 389L606 385.4L599.9 391.4L589.6 390.7Z"/>
<path d="M692.3 301.8L702.7 297.7L696.7 306.3L686.3 312.8Z"/>
<path d="M235.5 284.6L245.9 291.7L239.8 290.3L229.5 286.1Z"/>
<path d="M332.2 370.8L342.6 378.2L336.6 375.9L326.2 364.7Z"/>
<path d="M428.9 443.8L439.3 449.4L433.3 449.7L422.9 443.6Z"/>
<path d="M525.6 433.7L536 430L530 438.9L519.6 441.3Z"/>
<path d="M622.3 366.8L632.7 362.4L626.7 370.6L616.3 382.6Z"/>
<path d="M719.1 285.5L729.5 291.7L723.4 295.3L713.1 292.9Z"/>
<path d="M262.2 305.1L272.6 314.7L266.6 308.3L256.2 300.2Z" stroke="#009e73"/>
<path d="M359 389.7L369.3 397.9L363.3 394.6L353 388.3Z"/>
<path d="M455.7 455.6L466.1 460.6L460.1 460.6L449.7 454.3Z"/>
<path d="M552.4 419.9L562.8 414.2L556.8 421L546.4 429.4Z"/>
<path d="M649.1 344.8L659.5 337.9L653.5 349.5L643.1 355.3Z"/>
<path d="M192.3 282.4L202.7 265.6L196.7 260.6L186.3 282.9Z" stroke="#009e73"/>
<path d="M289 334.7L299.4 337.5L293.4 334.7L283 327.6Z" stroke="#009e73"/>
<path d="M385.7 411.5L396.1 420.7L390.1 415.7L379.7 407.3Z"/>
<path d="M482.5 453.2L492.8 454.1L486.8 462.8L476.5 462.1Z"/>
<path d="M579.2 397.1L589.6 390.7L583.6 406.7L573.2 407Z"/>
<path d="M675.9 315.6L686.3 312.8L680.3 325.1L669.9 331.8Z"/>
<path d="M219.1 274.9L229.5 286.1L223.5 281.2L213.1 269.4Z"/>
<path d="M315.8 356.1L326.2 364.7L320.2 361.7L309.8 350.2Z"/>
<path d="M412.5 433.8L422.9 443.6L416.9 436.5L406.5 431.2Z" stroke="#009e73"/>
<path d="M509.2 444.7L519.6 441.3L513.6 449.1L503.2 451.5Z"/>
<path d="M606 385.4L616.3 382.6L610.3 386.3L599.9 391.4Z"/>
<path d="M702.7 297.7L713.1 292.9L707.1 305.5L696.7 306.3Z"/>
<path d="M245.9 291.7L256.2 300.2L250.2 296.3L239.8 290.3Z"/>
<path d="M342.6 378.2L353 388.3L346.9 381.2L336.6 375.9Z" stroke="#009e73"/>
<path d="M439.3 449.4L449.7 454.3L443.7 454.5L433.3 449.7Z"/>
<path d="M536 430L546.4 429.4L540.4 436.5L530 438.9Z"/>
<path d="M632.7 362.4L643.1 355.3L637.1 363.6L626.7 370.6Z"/>
<path d="M272.6 314.7L283 327.6L277 317.7L266.6 308.3Z" stroke="#009e73"/>
<path d="M369.3 397.9L379.7 407.3L373.7 404.8L363.3 394.6Z"/>
<path d="M466.1 460.6L476.5 462.1L470.4 467.6L460.1 460.6Z"/>
<path d="M562.8 414.2L573.2 407L567.2 418.2L556.8 421Z"/>
<path d="M659.5 337.9L669.9 331.8L663.9 342.9L653.5 349.5Z"/>
<path d="M202.7 265.6L213.1 269.4L207.1 268.1L196.7 260.6Z"/>
<path d="M299.4 337.5L309.8 350.2L303.8 344.1L293.4 334.7Z"/>
<path d="M396.1 420.7L406.5 431.2L400.5 428.9L390.1 415.7Z"/>
<path d="M492.8 454.1L503.2 451.5L497.2 460.6L486.8 462.8Z"/>
<path d="M589.6 390.7L599.9 391.4L593.9 403.4L583.6 406.7Z"/>
<path d="M686.3 312.8L696.7 306.3L690.7 316.5L680.3 325.1Z"/>
<path d="M229.5 286.1L239.8 290.3L233.8 285.3L223.5 281.2Z" stroke="#009e73"/>
<path d="M326.2 364.7L336.6 375.9L330.6 370.4L320.2 361.7Z"/>
<path d="M422.9 443.6L433.3 449.7L427.3 448.7L416.9 436.5Z"/>
<path d="M519.6 441.3L530 438.9L524 449.6L513.6 449.1Z"/>
<path d="M616.3 382.6L626.7 370.6L620.7 381.8L610.3 386.3Z"/>
<path d="M713.1 292.9L723.4 295.3L717.4 308.2L707.1 305.5Z"/>
<path d="M256.2 300.2L266.6 308.3L260.6 298L250.2 296.3Z" stroke="#009e73"/>
<path d="M353 388.3L363.3 394.6L357.3 390.9L346.9 381.2Z" stroke="#009e73"/>
<path d="M449.7 454.3L460.1 460.6L454.1 462.7L443.7 454.5Z"/>
<path d="M546.4 429.4L556.8 421L550.8 429.9L540.4 436.5Z"/>
<path d="M643.1 355.3L653.5 349.5L647.5 363.6L637.1 363.6Z"/>
<path d="M186.3 282.9L196.7 260.6L190.7 260.1L180.3 286.4Z" stroke="#009e73"/>
<path d="M283 327.6L293.4 334.7L287.4 318.8L277 317.7Z" stroke="#009e73"/>
<path d="M379.7 407.3L390.1 415.7L384.1 415.2L373.7 404.8Z"/>
<path d="M476.5 462.1L486.8 462.8L480.8 470.6L470.4 467.6Z"/>
<path d="M573.2 407L583.6 406.7L577.6 409.3L567.2 418.2Z"/>
<path d="M669.9 331.8L680.3 325.1L674.3 337.1L663.9 342.9Z"/>
<path d="M213.1 269.4L223.5 281.2L217.4 275.8L207.1 268.1Z"/>
<path d="M309.8 350.2L320.2 361.7L314.2 355.1L303.8 344.1Z"/>
<path d="M406.5 431.2L416.9 436.5L410.9 433.7L400.5 428.9Z"/>
<path d="M503.2 451.5L513.6 449.1L507.6 459.4L497.2 460.6Z"/>
<path d="M599.9 391.4L610.3 386.3L604.3 397.4L593.9 403.4Z"/>
<path d="M696.7 306.3L707.1 305.5L701 314L690.7 316.5Z"/>
<path d="M239.8 290.3L250.2 296.3L244.2 291.7L233.8 285.3Z" stroke="#009e73"/>
<path d="M336.6 375.9L346.9 381.2L340.9 376.8L330.6 370.4Z" stroke="#009e73"/>
<path d="M433.3 449.7L443.7 454.5L437.7 452.9L427.3 448.7Z"/>
<path d="M530 438.9L540.4 436.5L534.4 445.5L524 449.6Z"/>
<path d="M626.7 370.6L637.1 363.6L631.1 380.3L620.7 381.8Z"/>
<path d="M266.6 308.3L277 317.7L271 310.5L260.6 298Z" stroke="#009e73"/>
<path d="M363.3 394.6L373.7 404.8L367.7 398L357.3 390.9Z" stroke="#009e73"/>
<path d="M460.1 460.6L470.4 467.6L464.4 466.2L454.1 462.7Z"/>
<path d="M556.8 421L567.2 418.2L561.2 426.7L550.8 429.9Z"/>
<path d="M653.5 349.5L663.9 342.9L657.9 358.7L647.5 363.6Z"/>
<path d="M196.7 260.6L207.1 268.1L201.1 270.9L190.7 260.1Z"/>
<path d="M293.4 334.7L303.8 344.1L297.8 334.8L287.4 318.8Z" stroke="#009e73"/>
<path d="M390.1 415.7L400.5 428.9L394.5 423.2L384.1 415.2Z"/>
<path d="M486.8 462.8L497.2 460.6L491.2 468.9L480.8 470.6Z"/>
<path d="M583.6 406.7L593.9 403.4L587.9 410.4L577.6 409.3Z"/>
<path d="M680.3 325.1L690.7 316.5L684.7 329.4L674.3 337.1Z"/>
<path d="M223.5 281.2L233.8 285.3L227.8 286L217.4 275.8Z"/>
<path d="M320.2 361.7L330.6 370.4L324.6 366.5L314.2 355.1Z"/>
<path d="M416.9 436.5L427.3 448.7L421.3 442.7L410.9 433.7Z"/>
<path d="M513.6 449.1L524 449.6L518 458.6L507.6 459.4Z"/>
<path d="M610.3 386.3L620.7 381.8L614.7 394.5L604.3 397.4Z"/>
<path d="M707.1 305.5L717.4 308.2L711.4 319.4L701 314Z"/>
<path d="M250.2 296.3L260.6 298L254.6 296.4L244.2 291.7Z" stroke="#009e73"/>
<path d="M346.9 381.2L357.3 390.9L351.3 388.5L340.9 376.8Z"/>
<path d="M443.7 454.5L454.1 462.7L448 459.4L437.7 452.9Z"/>
<path d="M540.4 436.5L550.8 429.9L544.8 439.5L534.4 445.5Z"/>
<path d="M637.1 363.6L647.5 363.6L641.5 374.3L631.1 380.3Z"/>
<path d="M180.3 286.4L190.7 260.1L184.7 262L174.3 285.9Z" stroke="#009e73"/>
<path d="M277 317.7L287.4 318.8L281.4 311.4L271 310.5Z" stroke="#009e73"/>
<path d="M373.7 404.8L384.1 415.2L378.1 408.7L367.7 398Z" stroke="#009e73"/>
<path d="M470.4 467.6L480.8 470.6L474.8 473.4L464.4 466.2Z"/>
<path d="M567.2 418.2L577.6 409.3L571.5 421.1L561.2 426.7Z"/>
<path d="M663.9 342.9L674.3 337.1L668.3 351L657.9 358.7Z"/>
<path d="M207.1 268.1L217.4 275.8L211.4 274.2L201.1 270.9Z"/>
<path d="M303.8 344.1L314.2 355.1L308.2 348.4L297.8 334.8Z" stroke="#009e73"/>
<path d="M400.5 428.9L410.9 433.7L404.9 431.5L394.5 423.2Z" stroke="#009e73"/>
<path d="M497.2 460.6L507.6 459.4L501.6 468L491.2 468.9Z"/>
<path d="M593.9 403.4L604.3 397.4L598.3 406.8L587.9 410.4Z"/>
<path d="M690.7 316.5L701 314L695 327.6L684.7 329.4Z"/>
<path d="M233.8 285.3L244.2 291.7L238.2 291L227.8 286Z"/>
<path d="M330.6 370.4L340.9 376.8L334.9 375.4L324.6 366.5Z"/>
<path d="M427.3 448.7L437.7 452.9L431.7 449.8L421.3 442.7Z" stroke="#009e73"/>
<path d="M524 449.6L534.4 445.5L528.4 453.8L518 458.6Z"/>
<path d="M620.7 381.8L631.1 380.3L625.1 389.3L614.7 394.5Z"/>
<path d="M260.6 298L271 310.5L265 300.7L254.6 296.4Z" stroke="#009e73"/>
<path d="M357.3 390.9L367.7 398L361.7 393.9L351.3 388.5Z"/>
<path d="M454.1 462.7L464.4 466.2L458.4 464.8L448 459.4Z"/>
<path d="M550.8 429.9L561.2 426.7L555.2 434.6L544.8 439.5Z"/>
<path d="M647.5 363.6L657.9 358.7L651.9 369L641.5 374.3Z"/>
<path d="M190.7 260.1L201.1 270.9L195 268.8L184.7 262Z"/>
<path d="M287.4 318.8L297.8 334.8L291.8 325.5L281.4 311.4Z"/>
<path d="M384.1 415.2L394.5 423.2L388.5 418.8L378.1 408.7Z" stroke="#009e73"/>
<path d="M480.8 470.6L491.2 468.9L485.2 474.3L474.8 473.4Z"/>
<path d="M577.6 409.3L587.9 410.4L581.9 418L571.5 421.1Z"/>
<path d="M674.3 337.1L684.7 329.4L678.6 343.7L668.3 351Z"/>
<path d="M217.4 275.8L227.8 286L221.8 285.4L211.4 274.2Z"/>
<path d="M314.2 355.1L324.6 366.5L318.5 358.9L308.2 348.4Z" stroke="#009e73"/>
<path d="M410.9 433.7L421.3 442.7L415.3 438L404.9 431.5Z"/>
<path d="M507.6 459.4L518 458.6L512 465.1L501.6 468Z"/>
<path d="M604.3 397.4L614.7 394.5L608.7 405.3L598.3 406.8Z"/>
<path d="M701 314L711.4 319.4L705.4 324.9L695 327.6Z"/>
<path d="M244.2 291.7L254.6 296.4L248.6 296.7L238.2 291Z"/>
<path d="M340.9 376.8L351.3 388.5L345.3 386L334.9 375.4Z"/>
<path d="M437.7 452.9L448 459.4L442 455.7L431.7 449.8Z"/>
<path d="M534.4 445.5L544.8 439.5L538.8 454.6L528.4 453.8Z"/>
<path d="M631.1 380.3L641.5 374.3L635.5 384.4L625.1 389.3Z"/>
<path d="M174.3 285.9L184.7 262L178.7 244.2L168.3 263Z" stroke="#009e73"/>
<path d="M271 310.5L281.4 311.4L275.4 310.4L265 300.7Z" stroke="#009e73"/>
<path d="M367.7 398L378.1 408.7L372.1 406.8L361.7 393.9Z"/>
<path d="M464.4 466.2L474.8 473.4L468.8 471.2L458.4 464.8Z"/>
<path d="M561.2 426.7L571.5 421.1L565.5 431.7L555.2 434.6Z"/>
<path d="M657.9 358.7L668.3 351L662.3 358.9L651.9 369Z"/>
<path d="M201.1 270.9L211.4 274.2L205.4 270.9L195 268.8Z" stroke="#009e73"/>
<path d="M297.8 334.8L308.2 348.4L302.2 338.5L291.8 325.5Z" stroke="#009e73"/>
<path d="M394.5 423.2L404.9 431.5L398.9 425.3L388.5 418.8Z" stroke="#009e73"/>
<path d="M491.2 468.9L501.6 468L495.6 474.8L485.2 474.3Z"/>
<path d="M587.9 410.4L598.3 406.8L592.3 414.9L581.9 418Z"/>
<path d="M684.7 329.4L695 327.6L689 332L678.6 343.7Z"/>
<path d="M227.8 286L238.2 291L232.2 287.5L221.8 285.4Z"/>
<path d="M324.6 366.5L334.9 375.4L328.9 371.8L318.5 358.9Z"/>
<path d="M421.3 442.7L431.7 449.8L425.7 444.8L415.3 438Z" stroke="#009e73"/>
<path d="M518 458.6L528.4 453.8L522.4 462L512 465.1Z"/>
<path d="M614.7 394.5L625.1 389.3L619.1 399.9L608.7 405.3Z"/>
<path d="M254.6 296.4L265 300.7L259 300.3L248.6 296.7Z"/>
<path d="M351.3 388.5L361.7 393.9L355.7 391.3L345.3 386Z"/>
<path d="M448 459.4L458.4 464.8L452.4 460.5L442 455.7Z" stroke="#009e73"/>
<path d="M544.8 439.5L555.2 434.6L549.1 447.2L538.8 454.6Z"/>
<path d="M641.5 374.3L651.9 369L645.9 378.4L635.5 384.4Z"/>
<path d="M184.7 262L195 268.8L189 262.6L178.7 244.2Z" stroke="#009e73"/>
<path d="M281.4 311.4L291.8 325.5L285.8 323.1L275.4 310.4Z"/>
<path d="M378.1 408.7L388.5 418.8L382.5 413.4L372.1 406.8Z"/>
<path d="M474.8 473.4L485.2 474.3L479.2 476.8L468.8 471.2Z"/>
<path d="M571.5 421.1L581.9 418L575.9 427.1L565.5 431.7Z"/>
<path d="M668.3 351L678.6 343.7L672.6 353.4L662.3 358.9Z"/>
<path d="M211.4 274.2L221.8 285.4L215.8 274.9L205.4 270.9Z" stroke="#009e73"/>
<path d="M308.2 348.4L318.5 358.9L312.5 353.6L302.2 338.5Z" stroke="#009e73"/>
<path d="M404.9 431.5L415.3 438L409.3 432.2L398.9 425.3Z" stroke="#009e73"/>
<path d="M501.6 468L512 465.1L506 472.6L495.6 474.8Z"/>
<path d="M598.3 406.8L608.7 405.3L602.7 406.4L592.3 414.9Z"/>
<path d="M695 327.6L705.4 324.9L699.4 337.5L689 332Z"/>
<path d="M238.2 291L248.6 296.7L242.6 292.6L232.2 287.5Z" stroke="#009e73"/>
<path d="M334.9 375.4L345.3 386L339.3 378.4L328.9 371.8Z" stroke="#009e73"/>
<path d="M431.7 449.8L442 455.7L436 451.7L425.7 444.8Z" stroke="#009e73"/>
<path d="M528.4 453.8L538.8 454.6L532.8 461.8L522.4 462Z"/>
<path d="M625.1 389.3L635.5 384.4L629.5 395.9L619.1 399.9Z"/>
<path d="M168.3 263L178.7 244.2L172.7 264L162.3 275Z"/>
<path d="M265 300.7L275.4 310.4L269.4 311.4L259 300.3Z"/>
<path d="M361.7 393.9L372.1 406.8L366.1 397L355.7 391.3Z" stroke="#009e73"/>
<path d="M458.4 464.8L468.8 471.2L462.8 468.4L452.4 460.5Z"/>
<path d="M555.2 434.6L565.5 431.7L559.5 442.1L549.1 447.2Z"/>
<path d="M651.9 369L662.3 358.9L656.3 370L645.9 378.4Z"/>
<path d="M195 268.8L205.4 270.9L199.4 276.3L189 262.6Z"/>
<path d="M291.8 325.5L302.2 338.5L296.1 333.8L285.8 323.1Z"/>
<path d="M388.5 418.8L398.9 425.3L392.9 422.1L382.5 413.4Z"/>
<path d="M485.2 474.3L495.6 474.8L489.6 478.5L479.2 476.8Z"/>
<path d="M581.9 418L592.3 414.9L586.3 423.1L575.9 427.1Z"/>
<path d="M678.6 343.7L689 332L683 348.4L672.6 353.4Z"/>
<path d="M221.8 285.4L232.2 287.5L226.2 281.5L215.8 274.9Z" stroke="#009e73"/>
<path d="M318.5 358.9L328.9 371.8L322.9 366.3L312.5 353.6Z"/>
<path d="M415.3 438L425.7 444.8L419.6 444.1L409.3 432.2Z"/>
<path d="M512 465.1L522.4 462L516.4 471.3L506 472.6Z"/>
<path d="M608.7 405.3L619.1 399.9L613.1 408.1L602.7 406.4Z"/>
<path d="M248.6 296.7L259 300.3L253 302L242.6 292.6Z"/>
<path d="M345.3 386L355.7 391.3L349.7 387.5L339.3 378.4Z" stroke="#009e73"/>
<path d="M442 455.7L452.4 460.5L446.4 461.9L436 451.7Z"/>
<path d="M538.8 454.6L549.1 447.2L543.1 457.1L532.8 461.8Z"/>
<path d="M635.5 384.4L645.9 378.4L639.9 386.7L629.5 395.9Z"/>
<path d="M178.7 244.2L189 262.6L183 272.7L172.7 264Z"/>
<path d="M275.4 310.4L285.8 323.1L279.8 317.4L269.4 311.4Z"/>
<path d="M372.1 406.8L382.5 413.4L376.5 409.9L366.1 397Z" stroke="#009e73"/>
<path d="M468.8 471.2L479.2 476.8L473.2 475.1L462.8 468.4Z"/>
<path d="M565.5 431.7L575.9 427.1L569.9 437.7L559.5 442.1Z"/>
<path d="M662.3 358.9L672.6 353.4L666.6 365.9L656.3 370Z"/>
<path d="M205.4 270.9L215.8 274.9L209.8 281.1L199.4 276.3Z"/>
<path d="M302.2 338.5L312.5 353.6L306.5 347.6L296.1 333.8Z"/>
<path d="M398.9 425.3L409.3 432.2L403.3 432L392.9 422.1Z"/>
<path d="M495.6 474.8L506 472.6L500 477.9L489.6 478.5Z"/>
<path d="M592.3 414.9L602.7 406.4L596.7 420.9L586.3 423.1Z"/>
<path d="M689 332L699.4 337.5L693.4 347.6L683 348.4Z"/>
<path d="M232.2 287.5L242.6 292.6L236.6 289.5L226.2 281.5Z" stroke="#009e73"/>
<path d="M328.9 371.8L339.3 378.4L333.3 373.1L322.9 366.3Z" stroke="#009e73"/>
<path d="M425.7 444.8L436 451.7L430 450.1L419.6 444.1Z"/>
<path d="M522.4 462L532.8 461.8L526.7 472.2L516.4 471.3Z"/>
<path d="M619.1 399.9L629.5 395.9L623.5 401.2L613.1 408.1Z"/>
<path d="M162.3 275L172.7 264L166.6 262.6L156.3 287.5Z" stroke="#009e73"/>
<path d="M259 300.3L269.4 311.4L263.4 306.3L253 302Z"/>
<path d="M355.7 391.3L366.1 397L360.1 396L349.7 387.5Z"/>
<path d="M452.4 460.5L462.8 468.4L456.8 466.7L446.4 461.9Z"/>
<path d="M549.1 447.2L559.5 442.1L553.5 451L543.1 457.1Z"/>
<path d="M645.9 378.4L656.3 370L650.2 378.2L639.9 386.7Z"/>
<path d="M189 262.6L199.4 276.3L193.4 271.2L183 272.7Z"/>
<path d="M285.8 323.1L296.1 333.8L290.1 327L279.8 317.4Z" stroke="#009e73"/>
<path d="M382.5 413.4L392.9 422.1L386.9 416L376.5 409.9Z" stroke="#009e73"/>
<path d="M479.2 476.8L489.6 478.5L483.6 480L473.2 475.1Z"/>
<path d="M575.9 427.1L586.3 423.1L580.3 432.6L569.9 437.7Z"/>
<path d="M672.6 353.4L683 348.4L677 360.2L666.6 365.9Z"/>
<path d="M215.8 274.9L226.2 281.5L220.2 279.9L209.8 281.1Z"/>
<path d="M312.5 353.6L322.9 366.3L316.9 356.7L306.5 347.6Z" stroke="#009e73"/>
<path d="M409.3 432.2L419.6 444.1L413.6 441.2L403.3 432Z"/>
<path d="M506 472.6L516.4 471.3L510.4 476.7L500 477.9Z"/>
<path d="M602.7 406.4L613.1 408.1L607.1 413.2L596.7 420.9Z"/>
<path d="M242.6 292.6L253 302L247 299.5L236.6 289.5Z"/>
<path d="M339.3 378.4L349.7 387.5L343.7 377.8L333.3 373.1Z" stroke="#009e73"/>
<path d="M436 451.7L446.4 461.9L440.4 459.9L430 450.1Z"/>
<path d="M532.8 461.8L543.1 457.1L537.1 468.2L526.7 472.2Z"/>
<path d="M629.5 395.9L639.9 386.7L633.9 391.2L623.5 401.2Z" stroke="#009e73"/>
<path d="M172.7 264L183 272.7L177 271L166.6 262.6Z"/>
<path d="M269.4 311.4L279.8 317.4L273.8 317.1L263.4 306.3Z"/>
<path d="M366.1 397L376.5 409.9L370.5 405.2L360.1 396Z"/>
<path d="M462.8 468.4L473.2 475.1L467.2 473.7L456.8 466.7Z"/>
<path d="M559.5 442.1L569.9 437.7L563.9 450.2L553.5 451Z"/>
<path d="M656.3 370L666.6 365.9L660.6 373.2L650.2 378.2Z"/>
<path d="M199.4 276.3L209.8 281.1L203.8 274.5L193.4 271.2Z" stroke="#009e73"/>
<path d="M296.1 333.8L306.5 347.6L300.5 338.5L290.1 327Z" stroke="#009e73"/>
<path d="M392.9 422.1L403.3 432L397.2 431.4L386.9 416Z"/>
<path d="M489.6 478.5L500 477.9L494 481.8L483.6 480Z"/>
<path d="M586.3 423.1L596.7 420.9L590.7 433.8L580.3 432.6Z"/>
<path d="M683 348.4L693.4 347.6L687.4 356.1L677 360.2Z"/>
<path d="M226.2 281.5L236.6 289.5L230.6 289.8L220.2 279.9Z"/>
<path d="M322.9 366.3L333.3 373.1L327.3 361.8L316.9 356.7Z" stroke="#009e73"/>
<path d="M419.6 444.1L430 450.1L424 450.7L413.6 441.2Z"/>
<path d="M516.4 471.3L526.7 472.2L520.7 474.9L510.4 476.7Z"/>
<path d="M613.1 408.1L623.5 401.2L617.5 410.8L607.1 413.2Z"/>
<path d="M156.3 287.5L166.6 262.6L160.6 277.7L150.3 302.7Z"/>
<path d="M253 302L263.4 306.3L257.4 304.8L247 299.5Z"/>
<path d="M349.7 387.5L360.1 396L354.1 390.6L343.7 377.8Z" stroke="#009e73"/>
<path d="M446.4 461.9L456.8 466.7L450.8 466.4L440.4 459.9Z"/>
<path d="M543.1 457.1L553.5 451L547.5 462.3L537.1 468.2Z"/>
<path d="M639.9 386.7L650.2 378.2L644.2 382.7L633.9 391.2Z" stroke="#009e73"/>
<path d="M183 272.7L193.4 271.2L187.4 267.3L177 271Z" stroke="#009e73"/>
<path d="M279.8 317.4L290.1 327L284.1 322L273.8 317.1Z"/>
<path d="M376.5 409.9L386.9 416L380.9 414.7L370.5 405.2Z"/>
<path d="M473.2 475.1L483.6 480L477.6 479.1L467.2 473.7Z"/>
<path d="M569.9 437.7L580.3 432.6L574.3 445.3L563.9 450.2Z"/>
<path d="M666.6 365.9L677 360.2L671 375.8L660.6 373.2Z"/>
<path d="M209.8 281.1L220.2 279.9L214.2 281L203.8 274.5Z" stroke="#009e73"/>
<path d="M306.5 347.6L316.9 356.7L310.9 349.7L300.5 338.5Z" stroke="#009e73"/>
<path d="M403.3 432L413.6 441.2L407.6 438.1L397.2 431.4Z"/>
<path d="M500 477.9L510.4 476.7L504.4 482L494 481.8Z"/>
<path d="M596.7 420.9L607.1 413.2L601.1 425.4L590.7 433.8Z"/>
<path d="M236.6 289.5L247 299.5L241 290L230.6 289.8Z" stroke="#009e73"/>
<path d="M333.3 373.1L343.7 377.8L337.7 372L327.3 361.8Z" stroke="#009e73"/>
<path d="M430 450.1L440.4 459.9L434.4 460.4L424 450.7Z"/>
<path d="M526.7 472.2L537.1 468.2L531.1 472.9L520.7 474.9Z"/>
<path d="M623.5 401.2L633.9 391.2L627.8 400.3L617.5 410.8Z"/>
<path d="M166.6 262.6L177 271L171 293.3L160.6 277.7Z"/>
<path d="M263.4 306.3L273.8 317.1L267.7 309.3L257.4 304.8Z" stroke="#009e73"/>
<path d="M360.1 396L370.5 405.2L364.5 399L354.1 390.6Z" stroke="#009e73"/>
<path d="M456.8 466.7L467.2 473.7L461.2 472.8L450.8 466.4Z"/>
<path d="M553.5 451L563.9 450.2L557.9 460.6L547.5 462.3Z"/>
<path d="M650.2 378.2L660.6 373.2L654.6 384.3L644.2 382.7Z"/>
<path d="M193.4 271.2L203.8 274.5L197.8 274.6L187.4 267.3Z"/>
<path d="M290.1 327L300.5 338.5L294.5 334.4L284.1 322Z"/>
<path d="M386.9 416L397.2 431.4L391.2 421.1L380.9 414.7Z"/>
<path d="M483.6 480L494 481.8L488 486.4L477.6 479.1Z"/>
<path d="M580.3 432.6L590.7 433.8L584.7 441.3L574.3 445.3Z"/>
<path d="M677 360.2L687.4 356.1L681.4 365L671 375.8Z"/>
<path d="M220.2 279.9L230.6 289.8L224.6 288.9L214.2 281Z"/>
<path d="M316.9 356.7L327.3 361.8L321.3 355L310.9 349.7Z" stroke="#009e73"/>
<path d="M413.6 441.2L424 450.7L418 449.7L407.6 438.1Z"/>
<path d="M510.4 476.7L520.7 474.9L514.7 481.7L504.4 482Z"/>
<path d="M607.1 413.2L617.5 410.8L611.5 423.7L601.1 425.4Z"/>
<path d="M247 299.5L257.4 304.8L251.4 308.3L241 290Z"/>
<path d="M343.7 377.8L354.1 390.6L348.1 380.7L337.7 372Z" stroke="#009e73"/>
<path d="M440.4 459.9L450.8 466.4L444.8 467.4L434.4 460.4Z"/>
<path d="M537.1 468.2L547.5 462.3L541.5 474.1L531.1 472.9Z"/>
<path d="M633.9 391.2L644.2 382.7L638.2 390.7L627.8 400.3Z"/>
<path d="M177 271L187.4 267.3L181.4 294.4L171 293.3Z"/>
<path d="M273.8 317.1L284.1 322L278.1 320.6L267.7 309.3Z"/>
<path d="M370.5 405.2L380.9 414.7L374.8 411.2L364.5 399Z"/>
<path d="M467.2 473.7L477.6 479.1L471.6 477.4L461.2 472.8Z"/>
<path d="M563.9 450.2L574.3 445.3L568.3 453.4L557.9 460.6Z"/>
<path d="M660.6 373.2L671 375.8L665 385.4L654.6 384.3Z"/>
<path d="M203.8 274.5L214.2 281L208.2 282.9L197.8 274.6Z"/>
<path d="M300.5 338.5L310.9 349.7L304.9 335.4L294.5 334.4Z" stroke="#009e73"/>
<path d="M397.2 431.4L407.6 438.1L401.6 436.1L391.2 421.1Z"/>
<path d="M494 481.8L504.4 482L498.3 486.3L488 486.4Z"/>
<path d="M590.7 433.8L601.1 425.4L595.1 436.8L584.7 441.3Z"/>
<path d="M230.6 289.8L241 290L235 294.2L224.6 288.9Z"/>
<path d="M327.3 361.8L337.7 372L331.7 361.1L321.3 355Z" stroke="#009e73"/>
<path d="M424 450.7L434.4 460.4L428.4 455.4L418 449.7Z"/>
<path d="M520.7 474.9L531.1 472.9L525.1 479.9L514.7 481.7Z"/>
<path d="M617.5 410.8L627.8 400.3L621.8 412L611.5 423.7Z"/>
<path d="M257.4 304.8L267.7 309.3L261.7 310L251.4 308.3Z"/>
<path d="M354.1 390.6L364.5 399L358.5 392.3L348.1 380.7Z" stroke="#009e73"/>
<path d="M450.8 466.4L461.2 472.8L455.2 473.6L444.8 467.4Z"/>
<path d="M547.5 462.3L557.9 460.6L551.9 466.4L541.5 474.1Z"/>
<path d="M644.2 382.7L654.6 384.3L648.6 390.1L638.2 390.7Z"/>
<path d="M187.4 267.3L197.8 274.6L191.8 296.5L181.4 294.4Z"/>
<path d="M284.1 322L294.5 334.4L288.5 324.7L278.1 320.6Z" stroke="#009e73"/>
<path d="M380.9 414.7L391.2 421.1L385.2 419.8L374.8 411.2Z"/>
<path d="M477.6 479.1L488 486.4L482 485L471.6 477.4Z"/>
<path d="M574.3 445.3L584.7 441.3L578.7 450.4L568.3 453.4Z"/>
<path d="M671 375.8L681.4 365L675.4 374.8L665 385.4Z"/>
<path d="M214.2 281L224.6 288.9L218.6 291.3L208.2 282.9Z"/>
<path d="M310.9 349.7L321.3 355L315.3 349L304.9 335.4Z" stroke="#009e73"/>
<path d="M407.6 438.1L418 449.7L412 446.4L401.6 436.1Z"/>
<path d="M504.4 482L514.7 481.7L508.7 488.3L498.3 486.3Z"/>
<path d="M601.1 425.4L611.5 423.7L605.4 432.4L595.1 436.8Z"/>
<path d="M241 290L251.4 308.3L245.3 300.9L235 294.2Z"/>
<path d="M337.7 372L348.1 380.7L342.1 375.4L331.7 361.1Z" stroke="#009e73"/>
<path d="M434.4 460.4L444.8 467.4L438.8 463.6L428.4 455.4Z" stroke="#009e73"/>
<path d="M531.1 472.9L541.5 474.1L535.5 477.2L525.1 479.9Z"/>
<path d="M627.8 400.3L638.2 390.7L632.2 401.6L621.8 412Z"/>
<path d="M267.7 309.3L278.1 320.6L272.1 315.4L261.7 310Z"/>
<path d="M364.5 399L374.8 411.2L368.8 400L358.5 392.3Z" stroke="#009e73"/>
<path d="M461.2 472.8L471.6 477.4L465.6 475.7L455.2 473.6Z"/>
<path d="M557.9 460.6L568.3 453.4L562.3 462.3L551.9 466.4Z"/>
<path d="M654.6 384.3L665 385.4L659 391.4L648.6 390.1Z"/>
<path d="M197.8 274.6L208.2 282.9L202.2 300.4L191.8 296.5Z"/>
<path d="M294.5 334.4L304.9 335.4L298.9 334.3L288.5 324.7Z" stroke="#009e73"/>
<path d="M391.2 421.1L401.6 436.1L395.6 429.8L385.2 419.8Z"/>
<path d="M488 486.4L498.3 486.3L492.3 493.5L482 485Z"/>
<path d="M584.7 441.3L595.1 436.8L589.1 445.5L578.7 450.4Z"/>
<path d="M224.6 288.9L235 294.2L229 293.6L218.6 291.3Z"/>
<path d="M321.3 355L331.7 361.1L325.7 357.9L315.3 349Z" stroke="#009e73"/>
<path d="M418 449.7L428.4 455.4L422.4 453.8L412 446.4Z"/>
<path d="M514.7 481.7L525.1 479.9L519.1 487L508.7 488.3Z"/>
<path d="M611.5 423.7L621.8 412L615.8 425.4L605.4 432.4Z"/>
<path d="M251.4 308.3L261.7 310L255.7 305.5L245.3 300.9Z" stroke="#009e73"/>
<path d="M348.1 380.7L358.5 392.3L352.5 385.7L342.1 375.4Z"/>
<path d="M444.8 467.4L455.2 473.6L449.2 470.3L438.8 463.6Z"/>
<path d="M541.5 474.1L551.9 466.4L545.9 474.6L535.5 477.2Z"/>
<path d="M638.2 390.7L648.6 390.1L642.6 401.1L632.2 401.6Z"/>
<path d="M278.1 320.6L288.5 324.7L282.5 319.5L272.1 315.4Z" stroke="#009e73"/>
<path d="M374.8 411.2L385.2 419.8L379.2 413.1L368.8 400Z" stroke="#009e73"/>
<path d="M471.6 477.4L482 485L475.9 482.9L465.6 475.7Z"/>
<path d="M568.3 453.4L578.7 450.4L572.7 457.4L562.3 462.3Z"/>
<path d="M665 385.4L675.4 374.8L669.4 388.6L659 391.4Z"/>
<path d="M208.2 282.9L218.6 291.3L212.6 289.2L202.2 300.4Z"/>
<path d="M304.9 335.4L315.3 349L309.3 340.6L298.9 334.3Z"/>
<path d="M401.6 436.1L412 446.4L406 441.4L395.6 429.8Z"/>
<path d="M498.3 486.3L508.7 488.3L502.7 492.7L492.3 493.5Z"/>
<path d="M595.1 436.8L605.4 432.4L599.4 443L589.1 445.5Z"/>
<path d="M235 294.2L245.3 300.9L239.3 299.3L229 293.6Z"/>
<path d="M331.7 361.1L342.1 375.4L336.1 367.9L325.7 357.9Z"/>
<path d="M428.4 455.4L438.8 463.6L432.8 459.6L422.4 453.8Z"/>
<path d="M525.1 479.9L535.5 477.2L529.5 484.7L519.1 487Z"/>
<path d="M621.8 412L632.2 401.6L626.2 417.5L615.8 425.4Z"/>
<path d="M261.7 310L272.1 315.4L266.1 311.8L255.7 305.5Z" stroke="#009e73"/>
<path d="M358.5 392.3L368.8 400L362.8 391.8L352.5 385.7Z" stroke="#009e73"/>
<path d="M455.2 473.6L465.6 475.7L459.6 477.9L449.2 470.3Z"/>
<path d="M551.9 466.4L562.3 462.3L556.3 468.9L545.9 474.6Z"/>
<path d="M648.6 390.1L659 391.4L653 398.9L642.6 401.1Z"/>
<path d="M288.5 324.7L298.9 334.3L292.9 331.7L282.5 319.5Z"/>
<path d="M385.2 419.8L395.6 429.8L389.6 424.3L379.2 413.1Z"/>
<path d="M482 485L492.3 493.5L486.3 489.1L475.9 482.9Z"/>
<path d="M578.7 450.4L589.1 445.5L583.1 450.9L572.7 457.4Z"/>
<path d="M218.6 291.3L229 293.6L222.9 306.9L212.6 289.2Z"/>
<path d="M315.3 349L325.7 357.9L319.7 354.3L309.3 340.6Z"/>
<path d="M412 446.4L422.4 453.8L416.4 450.3L406 441.4Z"/>
<path d="M508.7 488.3L519.1 487L513.1 494.1L502.7 492.7Z"/>
<path d="M605.4 432.4L615.8 425.4L609.8 434.9L599.4 443Z"/>
<path d="M245.3 300.9L255.7 305.5L249.7 300.8L239.3 299.3Z" stroke="#009e73"/>
<path d="M342.1 375.4L352.5 385.7L346.4 380.9L336.1 367.9Z"/>
<path d="M438.8 463.6L449.2 470.3L443.2 465.5L432.8 459.6Z" stroke="#009e73"/>
<path d="M535.5 477.2L545.9 474.6L539.9 480.5L529.5 484.7Z"/>
<path d="M632.2 401.6L642.6 401.1L636.6 416L626.2 417.5Z"/>
<path d="M272.1 315.4L282.5 319.5L276.5 319.5L266.1 311.8Z"/>
<path d="M368.8 400L379.2 413.1L373.2 408.3L362.8 391.8Z"/>
<path d="M465.6 475.7L475.9 482.9L469.9 481.2L459.6 477.9Z"/>
<path d="M562.3 462.3L572.7 457.4L566.7 464.8L556.3 468.9Z"/>
<path d="M659 391.4L669.4 388.6L663.4 398.2L653 398.9Z"/>
<path d="M298.9 334.3L309.3 340.6L303.3 337.2L292.9 331.7Z"/>
<path d="M395.6 429.8L406 441.4L400 435.6L389.6 424.3Z"/>
<path d="M492.3 493.5L502.7 492.7L496.7 495.7L486.3 489.1Z"/>
<path d="M589.1 445.5L599.4 443L593.4 450.2L583.1 450.9Z"/>
<path d="M229 293.6L239.3 299.3L233.3 313.4L222.9 306.9Z"/>
<path d="M325.7 357.9L336.1 367.9L330.1 366.7L319.7 354.3Z"/>
<path d="M422.4 453.8L432.8 459.6L426.8 455.2L416.4 450.3Z" stroke="#009e73"/>
<path d="M519.1 487L529.5 484.7L523.5 492.4L513.1 494.1Z"/>
<path d="M615.8 425.4L626.2 417.5L620.2 431.9L609.8 434.9Z"/>
<path d="M255.7 305.5L266.1 311.8L260.1 308.5L249.7 300.8Z"/>
<path d="M352.5 385.7L362.8 391.8L356.8 390.9L346.4 380.9Z"/>
<path d="M449.2 470.3L459.6 477.9L453.5 474.5L443.2 465.5Z"/>
<path d="M545.9 474.6L556.3 468.9L550.3 476.4L539.9 480.5Z"/>
<path d="M642.6 401.1L653 398.9L647 407.8L636.6 416Z"/>
<path d="M282.5 319.5L292.9 331.7L286.9 328L276.5 319.5Z"/>
<path d="M379.2 413.1L389.6 424.3L383.6 419.2L373.2 408.3Z"/>
<path d="M475.9 482.9L486.3 489.1L480.3 489L469.9 481.2Z"/>
<path d="M572.7 457.4L583.1 450.9L577 458.2L566.7 464.8Z"/>
<path d="M309.3 340.6L319.7 354.3L313.7 348.4L303.3 337.2Z"/>
<path d="M406 441.4L416.4 450.3L410.4 446.1L400 435.6Z"/>
<path d="M502.7 492.7L513.1 494.1L507.1 496.7L496.7 495.7Z"/>
<path d="M599.4 443L609.8 434.9L603.8 448L593.4 450.2Z"/>
<path d="M239.3 299.3L249.7 300.8L243.7 317.5L233.3 313.4Z"/>
<path d="M336.1 367.9L346.4 380.9L340.4 379.8L330.1 366.7Z"/>
<path d="M432.8 459.6L443.2 465.5L437.2 465.1L426.8 455.2Z"/>
<path d="M529.5 484.7L539.9 480.5L533.9 488L523.5 492.4Z"/>
<path d="M626.2 417.5L636.6 416L630.6 425.4L620.2 431.9Z"/>
<path d="M266.1 311.8L276.5 319.5L270.5 312.9L260.1 308.5Z" stroke="#009e73"/>
<path d="M362.8 391.8L373.2 408.3L367.2 404.3L356.8 390.9Z"/>
<path d="M459.6 477.9L469.9 481.2L463.9 479L453.5 474.5Z" stroke="#009e73"/>
<path d="M556.3 468.9L566.7 464.8L560.7 473L550.3 476.4Z"/>
<path d="M653 398.9L663.4 398.2L657.4 404.7L647 407.8Z"/>
<path d="M292.9 331.7L303.3 337.2L297.3 339.1L286.9 328Z"/>
<path d="M389.6 424.3L400 435.6L394 429.8L383.6 419.2Z"/>
<path d="M486.3 489.1L496.7 495.7L490.7 495.4L480.3 489Z"/>
<path d="M583.1 450.9L593.4 450.2L587.4 459.9L577 458.2Z"/>
<path d="M319.7 354.3L330.1 366.7L324 363.1L313.7 348.4Z"/>
<path d="M416.4 450.3L426.8 455.2L420.8 452.2L410.4 446.1Z" stroke="#009e73"/>
<path d="M513.1 494.1L523.5 492.4L517.5 496L507.1 496.7Z"/>
<path d="M609.8 434.9L620.2 431.9L614.2 437.9L603.8 448Z"/>
<path d="M249.7 300.8L260.1 308.5L254.1 327.9L243.7 317.5Z"/>
<path d="M346.4 380.9L356.8 390.9L350.8 386.7L340.4 379.8Z"/>
<path d="M443.2 465.5L453.5 474.5L447.5 472.7L437.2 465.1Z"/>
<path d="M539.9 480.5L550.3 476.4L544.3 487L533.9 488Z"/>
<path d="M636.6 416L647 407.8L641 415.2L630.6 425.4Z"/>
<path d="M276.5 319.5L286.9 328L280.9 323.7L270.5 312.9Z"/>
<path d="M373.2 408.3L383.6 419.2L377.6 415.2L367.2 404.3Z"/>
<path d="M469.9 481.2L480.3 489L474.3 486.2L463.9 479Z"/>
<path d="M566.7 464.8L577 458.2L571 469L560.7 473Z"/>
<path d="M303.3 337.2L313.7 348.4L307.7 346.2L297.3 339.1Z"/>
<path d="M400 435.6L410.4 446.1L404.4 440.2L394 429.8Z"/>
<path d="M496.7 495.7L507.1 496.7L501.1 500.7L490.7 495.4Z"/>
<path d="M593.4 450.2L603.8 448L597.8 452.5L587.4 459.9Z"/>
<path d="M330.1 366.7L340.4 379.8L334.4 373.8L324 363.1Z"/>
<path d="M426.8 455.2L437.2 465.1L431.2 460.5L420.8 452.2Z"/>
<path d="M523.5 492.4L533.9 488L527.9 493.7L517.5 496Z"/>
<path d="M620.2 431.9L630.6 425.4L624.6 434.2L614.2 437.9Z"/>
<path d="M260.1 308.5L270.5 312.9L264.5 338.2L254.1 327.9Z"/>
<path d="M356.8 390.9L367.2 404.3L361.2 395.8L350.8 386.7Z"/>
<path d="M453.5 474.5L463.9 479L457.9 478.3L447.5 472.7Z"/>
<path d="M550.3 476.4L560.7 473L554.6 483.2L544.3 487Z"/>
<path d="M647 407.8L657.4 404.7L651.4 413L641 415.2Z"/>
<path d="M286.9 328L297.3 339.1L291.3 333.2L280.9 323.7Z"/>
<path d="M383.6 419.2L394 429.8L388 426.9L377.6 415.2Z"/>
<path d="M480.3 489L490.7 495.4L484.7 493.3L474.3 486.2Z"/>
<path d="M577 458.2L587.4 459.9L581.4 464.1L571 469Z"/>
<path d="M313.7 348.4L324 363.1L318 360.8L307.7 346.2Z"/>
<path d="M410.4 446.1L420.8 452.2L414.8 446.9L404.4 440.2Z" stroke="#009e73"/>
<path d="M507.1 496.7L517.5 496L511.5 501L501.1 500.7Z"/>
<path d="M603.8 448L614.2 437.9L608.2 451.1L597.8 452.5Z"/>
<path d="M340.4 379.8L350.8 386.7L344.8 386.5L334.4 373.8Z"/>
<path d="M437.2 465.1L447.5 472.7L441.5 466.9L431.2 460.5Z" stroke="#009e73"/>
<path d="M533.9 488L544.3 487L538.3 492.9L527.9 493.7Z"/>
<path d="M630.6 425.4L641 415.2L635 425.3L624.6 434.2Z"/>
<path d="M270.5 312.9L280.9 323.7L274.9 346.7L264.5 338.2Z"/>
<path d="M367.2 404.3L377.6 415.2L371.6 412.1L361.2 395.8Z"/>
<path d="M463.9 479L474.3 486.2L468.3 488.2L457.9 478.3Z"/>
<path d="M560.7 473L571 469L565 480L554.6 483.2Z"/>
<path d="M297.3 339.1L307.7 346.2L301.6 338.2L291.3 333.2Z" stroke="#009e73"/>
<path d="M394 429.8L404.4 440.2L398.4 437.6L388 426.9Z"/>
<path d="M490.7 495.4L501.1 500.7L495.1 499.7L484.7 493.3Z"/>
<path d="M587.4 459.9L597.8 452.5L591.8 465.1L581.4 464.1Z"/>
<path d="M324 363.1L334.4 373.8L328.4 371.3L318 360.8Z"/>
<path d="M420.8 452.2L431.2 460.5L425.1 454.8L414.8 446.9Z" stroke="#009e73"/>
<path d="M517.5 496L527.9 493.7L521.9 500.3L511.5 501Z"/>
<path d="M614.2 437.9L624.6 434.2L618.6 445.5L608.2 451.1Z"/>
<path d="M350.8 386.7L361.2 395.8L355.2 395.8L344.8 386.5Z"/>
<path d="M447.5 472.7L457.9 478.3L451.9 477.2L441.5 466.9Z"/>
<path d="M544.3 487L554.6 483.2L548.6 489.8L538.3 492.9Z"/>
<path d="M641 415.2L651.4 413L645.4 419.9L635 425.3Z"/>
<path d="M280.9 323.7L291.3 333.2L285.3 353L274.9 346.7Z"/>
<path d="M377.6 415.2L388 426.9L382 421.9L371.6 412.1Z"/>
<path d="M474.3 486.2L484.7 493.3L478.7 493.6L468.3 488.2Z"/>
<path d="M571 469L581.4 464.1L575.4 474.6L565 480Z"/>
<path d="M307.7 346.2L318 360.8L312 353.6L301.6 338.2Z"/>
<path d="M404.4 440.2L414.8 446.9L408.8 445.5L398.4 437.6Z"/>
<path d="M501.1 500.7L511.5 501L505.5 505.7L495.1 499.7Z"/>
<path d="M597.8 452.5L608.2 451.1L602.2 460L591.8 465.1Z"/>
<path d="M334.4 373.8L344.8 386.5L338.8 382.1L328.4 371.3Z"/>
<path d="M431.2 460.5L441.5 466.9L435.5 463.4L425.1 454.8Z" stroke="#009e73"/>
<path d="M527.9 493.7L538.3 492.9L532.3 498.5L521.9 500.3Z"/>
<path d="M624.6 434.2L635 425.3L629 436.6L618.6 445.5Z"/>
<path d="M361.2 395.8L371.6 412.1L365.6 405.9L355.2 395.8Z"/>
<path d="M457.9 478.3L468.3 488.2L462.3 487.3L451.9 477.2Z"/>
<path d="M554.6 483.2L565 480L559 489.2L548.6 489.8Z"/>
<path d="M291.3 333.2L301.6 338.2L295.6 360.4L285.3 353Z"/>
<path d="M388 426.9L398.4 437.6L392.4 433.2L382 421.9Z"/>
<path d="M484.7 493.3L495.1 499.7L489.1 500L478.7 493.6Z"/>
<path d="M581.4 464.1L591.8 465.1L585.8 472.7L575.4 474.6Z"/>
<path d="M318 360.8L328.4 371.3L322.4 363.4L312 353.6Z" stroke="#009e73"/>
<path d="M414.8 446.9L425.1 454.8L419.1 453.3L408.8 445.5Z"/>
<path d="M511.5 501L521.9 500.3L515.9 504.1L505.5 505.7Z"/>
<path d="M608.2 451.1L618.6 445.5L612.6 455.5L602.2 460Z"/>
<path d="M344.8 386.5L355.2 395.8L349.2 389.8L338.8 382.1Z" stroke="#009e73"/>
<path d="M441.5 466.9L451.9 477.2L445.9 474.8L435.5 463.4Z"/>
<path d="M538.3 492.9L548.6 489.8L542.6 498.1L532.3 498.5Z"/>
<path d="M635 425.3L645.4 419.9L639.4 435.9L629 436.6Z"/>
<path d="M371.6 412.1L382 421.9L376 416.4L365.6 405.9Z"/>
<path d="M468.3 488.2L478.7 493.6L472.7 493.2L462.3 487.3Z"/>
<path d="M565 480L575.4 474.6L569.4 484.1L559 489.2Z"/>
<path d="M301.6 338.2L312 353.6L306 364.8L295.6 360.4Z"/>
<path d="M398.4 437.6L408.8 445.5L402.7 442.2L392.4 433.2Z"/>
<path d="M495.1 499.7L505.5 505.7L499.5 505.5L489.1 500Z"/>
<path d="M591.8 465.1L602.2 460L596.2 469.7L585.8 472.7Z"/>
<path d="M328.4 371.3L338.8 382.1L332.8 373.3L322.4 363.4Z" stroke="#009e73"/>
<path d="M425.1 454.8L435.5 463.4L429.5 463.2L419.1 453.3Z"/>
<path d="M521.9 500.3L532.3 498.5L526.2 507.2L515.9 504.1Z"/>
<path d="M618.6 445.5L629 436.6L623 449.9L612.6 455.5Z"/>
<path d="M355.2 395.8L365.6 405.9L359.6 399.7L349.2 389.8Z" stroke="#009e73"/>
<path d="M451.9 477.2L462.3 487.3L456.3 482.9L445.9 474.8Z"/>
<path d="M548.6 489.8L559 489.2L553 494.7L542.6 498.1Z"/>
<path d="M382 421.9L392.4 433.2L386.4 430.6L376 416.4Z"/>
<path d="M478.7 493.6L489.1 500L483.1 499.9L472.7 493.2Z"/>
<path d="M575.4 474.6L585.8 472.7L579.8 480.2L569.4 484.1Z"/>
<path d="M312 353.6L322.4 363.4L316.4 370.7L306 364.8Z"/>
<path d="M408.8 445.5L419.1 453.3L413.1 451.7L402.7 442.2Z"/>
<path d="M505.5 505.7L515.9 504.1L509.9 511.6L499.5 505.5Z"/>
<path d="M602.2 460L612.6 455.5L606.6 466L596.2 469.7Z"/>
<path d="M338.8 382.1L349.2 389.8L343.2 382.5L332.8 373.3Z" stroke="#009e73"/>
<path d="M435.5 463.4L445.9 474.8L439.9 466.8L429.5 463.2Z"/>
<path d="M532.3 498.5L542.6 498.1L536.6 504.4L526.2 507.2Z"/>
<path d="M629 436.6L639.4 435.9L633.3 447.3L623 449.9Z"/>
<path d="M365.6 405.9L376 416.4L370 413.4L359.6 399.7Z"/>
<path d="M462.3 487.3L472.7 493.2L466.7 489.6L456.3 482.9Z" stroke="#009e73"/>
<path d="M559 489.2L569.4 484.1L563.4 493.5L553 494.7Z"/>
<path d="M392.4 433.2L402.7 442.2L396.7 441.1L386.4 430.6Z"/>
<path d="M489.1 500L499.5 505.5L493.5 505.8L483.1 499.9Z"/>
<path d="M585.8 472.7L596.2 469.7L590.2 477.8L579.8 480.2Z"/>
<path d="M322.4 363.4L332.8 373.3L326.8 374.3L316.4 370.7Z"/>
<path d="M419.1 453.3L429.5 463.2L423.5 460.1L413.1 451.7Z"/>
<path d="M515.9 504.1L526.2 507.2L520.2 510L509.9 511.6Z"/>
<path d="M612.6 455.5L623 449.9L617 461.5L606.6 466Z"/>
<path d="M349.2 389.8L359.6 399.7L353.6 392.5L343.2 382.5Z" stroke="#009e73"/>
<path d="M445.9 474.8L456.3 482.9L450.3 477.7L439.9 466.8Z" stroke="#009e73"/>
<path d="M542.6 498.1L553 494.7L547 503.2L536.6 504.4Z"/>
<path d="M376 416.4L386.4 430.6L380.4 420.2L370 413.4Z" stroke="#009e73"/>
<path d="M472.7 493.2L483.1 499.9L477.1 497.2L466.7 489.6Z"/>
<path d="M569.4 484.1L579.8 480.2L573.8 490.3L563.4 493.5Z"/>
<path d="M402.7 442.2L413.1 451.7L407.1 444.1L396.7 441.1Z" stroke="#009e73"/>
<path d="M499.5 505.5L509.9 511.6L503.8 509.9L493.5 505.8Z"/>
<path d="M596.2 469.7L606.6 466L600.6 472.3L590.2 477.8Z"/>
<path d="M332.8 373.3L343.2 382.5L337.2 384.4L326.8 374.3Z"/>
<path d="M429.5 463.2L439.9 466.8L433.9 466L423.5 460.1Z"/>
<path d="M526.2 507.2L536.6 504.4L530.6 510.8L520.2 510Z"/>
<path d="M623 449.9L633.3 447.3L627.3 456.5L617 461.5Z"/>
<path d="M359.6 399.7L370 413.4L364 403.6L353.6 392.5Z" stroke="#009e73"/>
<path d="M456.3 482.9L466.7 489.6L460.7 486L450.3 477.7Z" stroke="#009e73"/>
<path d="M553 494.7L563.4 493.5L557.4 502.6L547 503.2Z"/>
<path d="M386.4 430.6L396.7 441.1L390.7 433.5L380.4 420.2Z" stroke="#009e73"/>
<path d="M483.1 499.9L493.5 505.8L487.5 502.4L477.1 497.2Z"/>
<path d="M579.8 480.2L590.2 477.8L584.2 485.9L573.8 490.3Z"/>
<path d="M413.1 451.7L423.5 460.1L417.5 454.5L407.1 444.1Z" stroke="#009e73"/>
<path d="M509.9 511.6L520.2 510L514.2 515.8L503.8 509.9Z"/>
<path d="M606.6 466L617 461.5L611 470.1L600.6 472.3Z"/>
<path d="M343.2 382.5L353.6 392.5L347.6 399.5L337.2 384.4Z"/>
<path d="M439.9 466.8L450.3 477.7L444.3 475L433.9 466Z"/>
<path d="M536.6 504.4L547 503.2L541 511.2L530.6 510.8Z"/>
<path d="M370 413.4L380.4 420.2L374.3 415.3L364 403.6Z" stroke="#009e73"/>
<path d="M466.7 489.6L477.1 497.2L471.1 493L460.7 486Z"/>
<path d="M563.4 493.5L573.8 490.3L567.8 495.5L557.4 502.6Z"/>
<path d="M396.7 441.1L407.1 444.1L401.1 441.1L390.7 433.5Z" stroke="#009e73"/>
<path d="M493.5 505.8L503.8 509.9L497.8 509.8L487.5 502.4Z"/>
<path d="M590.2 477.8L600.6 472.3L594.6 482.8L584.2 485.9Z"/>
<path d="M423.5 460.1L433.9 466L427.9 463.7L417.5 454.5Z"/>
<path d="M520.2 510L530.6 510.8L524.6 514.7L514.2 515.8Z"/>
<path d="M617 461.5L627.3 456.5L621.3 464.2L611 470.1Z"/>
<path d="M353.6 392.5L364 403.6L358 413.3L347.6 399.5Z"/>
<path d="M450.3 477.7L460.7 486L454.7 483.8L444.3 475Z"/>
<path d="M547 503.2L557.4 502.6L551.4 508.5L541 511.2Z"/>
<path d="M380.4 420.2L390.7 433.5L384.7 426.8L374.3 415.3Z"/>
<path d="M477.1 497.2L487.5 502.4L481.4 502.3L471.1 493Z"/>
<path d="M573.8 490.3L584.2 485.9L578.2 494.1L567.8 495.5Z"/>
<path d="M407.1 444.1L417.5 454.5L411.5 451.7L401.1 441.1Z"/>
<path d="M503.8 509.9L514.2 515.8L508.2 516.2L497.8 509.8Z"/>
<path d="M600.6 472.3L611 470.1L604.9 476.9L594.6 482.8Z"/>
<path d="M433.9 466L444.3 475L438.3 476.5L427.9 463.7Z"/>
<path d="M530.6 510.8L541 511.2L535 517L524.6 514.7Z"/>
<path d="M364 403.6L374.3 415.3L368.3 423.8L358 413.3Z"/>
<path d="M460.7 486L471.1 493L465.1 494.2L454.7 483.8Z"/>
<path d="M557.4 502.6L567.8 495.5L561.8 503.5L551.4 508.5Z"/>
<path d="M390.7 433.5L401.1 441.1L395.1 435.1L384.7 426.8Z" stroke="#009e73"/>
<path d="M487.5 502.4L497.8 509.8L491.8 508.1L481.4 502.3Z"/>
<path d="M584.2 485.9L594.6 482.8L588.6 489.6L578.2 494.1Z"/>
<path d="M417.5 454.5L427.9 463.7L421.9 461.4L411.5 451.7Z"/>
<path d="M514.2 515.8L524.6 514.7L518.6 520.4L508.2 516.2Z"/>
<path d="M611 470.1L621.3 464.2L615.3 473.8L604.9 476.9Z"/>
<path d="M444.3 475L454.7 483.8L448.7 480.1L438.3 476.5Z"/>
<path d="M541 511.2L551.4 508.5L545.4 516.2L535 517Z"/>
<path d="M374.3 415.3L384.7 426.8L378.7 429.9L368.3 423.8Z"/>
<path d="M471.1 493L481.4 502.3L475.4 499.4L465.1 494.2Z"/>
<path d="M567.8 495.5L578.2 494.1L572.2 503.2L561.8 503.5Z"/>
<path d="M401.1 441.1L411.5 451.7L405.5 446.9L395.1 435.1Z"/>
<path d="M497.8 509.8L508.2 516.2L502.2 514L491.8 508.1Z"/>
<path d="M594.6 482.8L604.9 476.9L598.9 486.2L588.6 489.6Z"/>
<path d="M427.9 463.7L438.3 476.5L432.3 468L421.9 461.4Z"/>
<path d="M524.6 514.7L535 517L529 519.5L518.6 520.4Z"/>
<path d="M454.7 483.8L465.1 494.2L459.1 492.1L448.7 480.1Z"/>
<path d="M551.4 508.5L561.8 503.5L555.8 514.7L545.4 516.2Z"/>
<path d="M384.7 426.8L395.1 435.1L389.1 439.5L378.7 429.9Z"/>
<path d="M481.4 502.3L491.8 508.1L485.8 505.4L475.4 499.4Z"/>
<path d="M578.2 494.1L588.6 489.6L582.5 499.7L572.2 503.2Z"/>
<path d="M411.5 451.7L421.9 461.4L415.9 454.5L405.5 446.9Z" stroke="#009e73"/>
<path d="M508.2 516.2L518.6 520.4L512.6 520.1L502.2 514Z"/>
<path d="M604.9 476.9L615.3 473.8L609.3 483.5L598.9 486.2Z"/>
<path d="M438.3 476.5L448.7 480.1L442.7 476.9L432.3 468Z" stroke="#009e73"/>
<path d="M535 517L545.4 516.2L539.4 520.3L529 519.5Z"/>
<path d="M465.1 494.2L475.4 499.4L469.4 499L459.1 492.1Z"/>
<path d="M561.8 503.5L572.2 503.2L566.2 512.2L555.8 514.7Z"/>
<path d="M395.1 435.1L405.5 446.9L399.5 449.1L389.1 439.5Z"/>
<path d="M491.8 508.1L502.2 514L496.2 512.6L485.8 505.4Z"/>
<path d="M588.6 489.6L598.9 486.2L592.9 494L582.5 499.7Z"/>
<path d="M421.9 461.4L432.3 468L426.3 468.9L415.9 454.5Z"/>
<path d="M518.6 520.4L529 519.5L523 525.7L512.6 520.1Z"/>
<path d="M448.7 480.1L459.1 492.1L453 489L442.7 476.9Z"/>
<path d="M545.4 516.2L555.8 514.7L549.8 521L539.4 520.3Z"/>
<path d="M475.4 499.4L485.8 505.4L479.8 505.9L469.4 499Z"/>
<path d="M572.2 503.2L582.5 499.7L576.5 507.3L566.2 512.2Z"/>
<path d="M405.5 446.9L415.9 454.5L409.9 456.4L399.5 449.1Z"/>
<path d="M502.2 514L512.6 520.1L506.6 518.5L496.2 512.6Z"/>
<path d="M598.9 486.2L609.3 483.5L603.3 487.4L592.9 494Z"/>
<path d="M432.3 468L442.7 476.9L436.7 476.7L426.3 468.9Z"/>
<path d="M529 519.5L539.4 520.3L533.4 525.1L523 525.7Z"/>
<path d="M459.1 492.1L469.4 499L463.4 495.1L453 489Z"/>
<path d="M555.8 514.7L566.2 512.2L560.2 517.2L549.8 521Z"/>
<path d="M485.8 505.4L496.2 512.6L490.2 511.2L479.8 505.9Z"/>
<path d="M582.5 499.7L592.9 494L586.9 503.7L576.5 507.3Z"/>
<path d="M415.9 454.5L426.3 468.9L420.3 463.8L409.9 456.4Z"/>
<path d="M512.6 520.1L523 525.7L517 523.5L506.6 518.5Z"/>
<path d="M442.7 476.9L453 489L447 484.9L436.7 476.7Z"/>
<path d="M539.4 520.3L549.8 521L543.8 527.6L533.4 525.1Z"/>
<path d="M469.4 499L479.8 505.9L473.8 504L463.4 495.1Z"/>
<path d="M566.2 512.2L576.5 507.3L570.5 515.4L560.2 517.2Z"/>
<path d="M496.2 512.6L506.6 518.5L500.6 518.6L490.2 511.2Z"/>
<path d="M592.9 494L603.3 487.4L597.3 497.2L586.9 503.7Z"/>
<path d="M426.3 468.9L436.7 476.7L430.6 469.2L420.3 463.8Z" stroke="#009e73"/>
<path d="M523 525.7L533.4 525.1L527.4 530.5L517 523.5Z"/>
<path d="M453 489L463.4 495.1L457.4 487.8L447 484.9Z" stroke="#009e73"/>
<path d="M549.8 521L560.2 517.2L554.1 524.4L543.8 527.6Z"/>
<path d="M479.8 505.9L490.2 511.2L484.2 511.1L473.8 504Z"/>
<path d="M576.5 507.3L586.9 503.7L580.9 510.9L570.5 515.4Z"/>
<path d="M506.6 518.5L517 523.5L511 523.6L500.6 518.6Z"/>
<path d="M436.7 476.7L447 484.9L441 481.3L430.6 469.2Z"/>
<path d="M533.4 525.1L543.8 527.6L537.8 528L527.4 530.5Z"/>
<path d="M463.4 495.1L473.8 504L467.8 496.1L457.4 487.8Z" stroke="#009e73"/>
<path d="M560.2 517.2L570.5 515.4L564.5 524.7L554.1 524.4Z"/>
<path d="M490.2 511.2L500.6 518.6L494.6 514.4L484.2 511.1Z"/>
<path d="M586.9 503.7L597.3 497.2L591.3 506.7L580.9 510.9Z"/>
<path d="M517 523.5L527.4 530.5L521.4 530.2L511 523.6Z"/>
<path d="M447 484.9L457.4 487.8L451.4 487L441 481.3Z"/>
<path d="M543.8 527.6L554.1 524.4L548.1 531.6L537.8 528Z"/>
<path d="M473.8 504L484.2 511.1L478.2 504.8L467.8 496.1Z" stroke="#009e73"/>
<path d="M570.5 515.4L580.9 510.9L574.9 517.2L564.5 524.7Z"/>
<path d="M500.6 518.6L511 523.6L505 522.3L494.6 514.4Z"/>
<path d="M527.4 530.5L537.8 528L531.7 535.4L521.4 530.2Z"/>
<path d="M457.4 487.8L467.8 496.1L461.8 493.5L451.4 487Z"/>
<path d="M554.1 524.4L564.5 524.7L558.5 529.1L548.1 531.6Z"/>
<path d="M484.2 511.1L494.6 514.4L488.6 515.6L478.2 504.8Z"/>
<path d="M580.9 510.9L591.3 506.7L585.3 520.4L574.9 517.2Z"/>
<path d="M511 523.6L521.4 530.2L515.4 527.7L505 522.3Z"/>
<path d="M537.8 528L548.1 531.6L542.1 533.7L531.7 535.4Z"/>
<path d="M467.8 496.1L478.2 504.8L472.2 502.2L461.8 493.5Z"/>
<path d="M564.5 524.7L574.9 517.2L568.9 527.7L558.5 529.1Z"/>
<path d="M494.6 514.4L505 522.3L499 520.4L488.6 515.6Z"/>
<path d="M521.4 530.2L531.7 535.4L525.7 533.3L515.4 527.7Z"/>
<path d="M548.1 531.6L558.5 529.1L552.5 536.1L542.1 533.7Z"/>
<path d="M478.2 504.8L488.6 515.6L482.6 509.8L472.2 502.2Z"/>
<path d="M574.9 517.2L585.3 520.4L579.3 526.5L568.9 527.7Z"/>
<path d="M505 522.3L515.4 527.7L509.3 525.5L499 520.4Z"/>
<path d="M531.7 535.4L542.1 533.7L536.1 540.1L525.7 533.3Z"/>
<path d="M558.5 529.1L568.9 527.7L562.9 532.3L552.5 536.1Z"/>
<path d="M488.6 515.6L499 520.4L493 514.5L482.6 509.8Z" stroke="#009e73"/>
<path d="M515.4 527.7L525.7 533.3L519.7 533L509.3 525.5Z"/>
<path d="M542.1 533.7L552.5 536.1L546.5 539.7L536.1 540.1Z"/>
<path d="M568.9 527.7L579.3 526.5L573.3 530.1L562.9 532.3Z"/>
<path d="M499 520.4L509.3 525.5L503.3 522L493 514.5Z" stroke="#009e73"/>
<path d="M525.7 533.3L536.1 540.1L530.1 537.6L519.7 533Z"/>
<path d="M552.5 536.1L562.9 532.3L556.9 540.6L546.5 539.7Z"/>
<path d="M509.3 525.5L519.7 533L513.7 529.5L503.3 522Z"/>
<path d="M536.1 540.1L546.5 539.7L540.5 546.7L530.1 537.6Z"/>
<path d="M562.9 532.3L573.3 530.1L567.3 538.5L556.9 540.6Z"/>
<path d="M519.7 533L530.1 537.6L524.1 540L513.7 529.5Z"/>
<path d="M546.5 539.7L556.9 540.6L550.9 544.2L540.5 546.7Z"/>
<path d="M530.1 537.6L540.5 546.7L534.5 546L524.1 540Z"/>
<path d="M556.9 540.6L567.3 538.5L561.3 545L550.9 544.2Z"/>
<path d="M540.5 546.7L550.9 544.2L544.9 550L534.5 546Z"/>
<path d="M550.9 544.2L561.3 545L555.3 543L544.9 550Z"/>
</g>
<path d="M600.5 491.5L602.5 485L608.8 481.3M673.3 370L681.7 364.7L675.8 361.7M723.7 285.6L729.5 288.3M157 287L163 283.5" fill="none" stroke="#009e73" stroke-width="1" stroke-linejoin="round"/>
<path d="M575.5 650.7L575.5 324.7M122.5 231.5L575.5 324.7M575.5 324.7L837.5 162.1" fill="none" stroke="#000" stroke-width="1"/>
<g font-family="'Liberation Sans', sans-serif" font-size="12px" fill="#000" style="opacity:0.999">
<text x="480" y="26" text-anchor="middle" textLength="376.6" lengthAdjust="spacingAndGlyphs">[elm3a92] Seagate Barracuda ES ST3750640NS 750G 7200RPM SATA</text>
<text x="109.3" y="559.3" text-anchor="end">11.5</text>
<text x="109.3" y="523.1" text-anchor="end">12</text>
<text x="109.3" y="486.9" text-anchor="end">12.5</text>
<text x="109.3" y="450.6" text-anchor="end">13</text>
<text x="109.3" y="414.4" text-anchor="end">13.5</text>
<text x="109.3" y="378.2" text-anchor="end">14</text>
<text x="109.3" y="342" text-anchor="end">14.5</text>
<text x="109.3" y="305.7" text-anchor="end">15</text>
<text x="109.3" y="269.5" text-anchor="end">15.5</text>
<text x="109.3" y="233.3" text-anchor="end">16</text>
<text x="119.5" y="395.5" text-anchor="end" textLength="91.5" lengthAdjust="spacingAndGlyphs">Seek Speed (ms)</text>
<text x="118.2" y="562.1" text-anchor="middle">0</text>
<text x="847.1" y="492.3" text-anchor="start">0</text>
<text x="175.8" y="575" text-anchor="middle">100000</text>
<text x="814.4" y="512.6" text-anchor="start">100000</text>
<text x="232.4" y="586.7" text-anchor="middle">200000</text>
<text x="781.6" y="533" text-anchor="start">200000</text>
<text x="289.1" y="598.3" text-anchor="middle">300000</text>
<text x="748.9" y="553.3" text-anchor="start">300000</text>
<text x="345.7" y="610" text-anchor="middle">400000</text>
<text x="716.1" y="573.6" text-anchor="start">400000</text>
<text x="402.3" y="621.6" text-anchor="middle">500000</text>
<text x="683.4" y="593.9" text-anchor="start">500000</text>
<text x="458.9" y="633.3" text-anchor="middle">600000</text>
<text x="650.6" y="614.2" text-anchor="start">600000</text>
<text x="515.6" y="644.9" text-anchor="middle">700000</text>
<text x="617.9" y="634.6" text-anchor="start">700000</text>
<text x="572.2" y="656.6" text-anchor="middle">800000</text>
<text x="585.1" y="654.9" text-anchor="start">800000</text>
<text x="307.5" y="631" text-anchor="middle" textLength="102" lengthAdjust="spacingAndGlyphs">Ending Offset (MB)</text>
<text x="777.8" y="586" text-anchor="middle" textLength="107.5" lengthAdjust="spacingAndGlyphs">Starting Offset (MB)</text>
</g>
</svg>
</body></html>
